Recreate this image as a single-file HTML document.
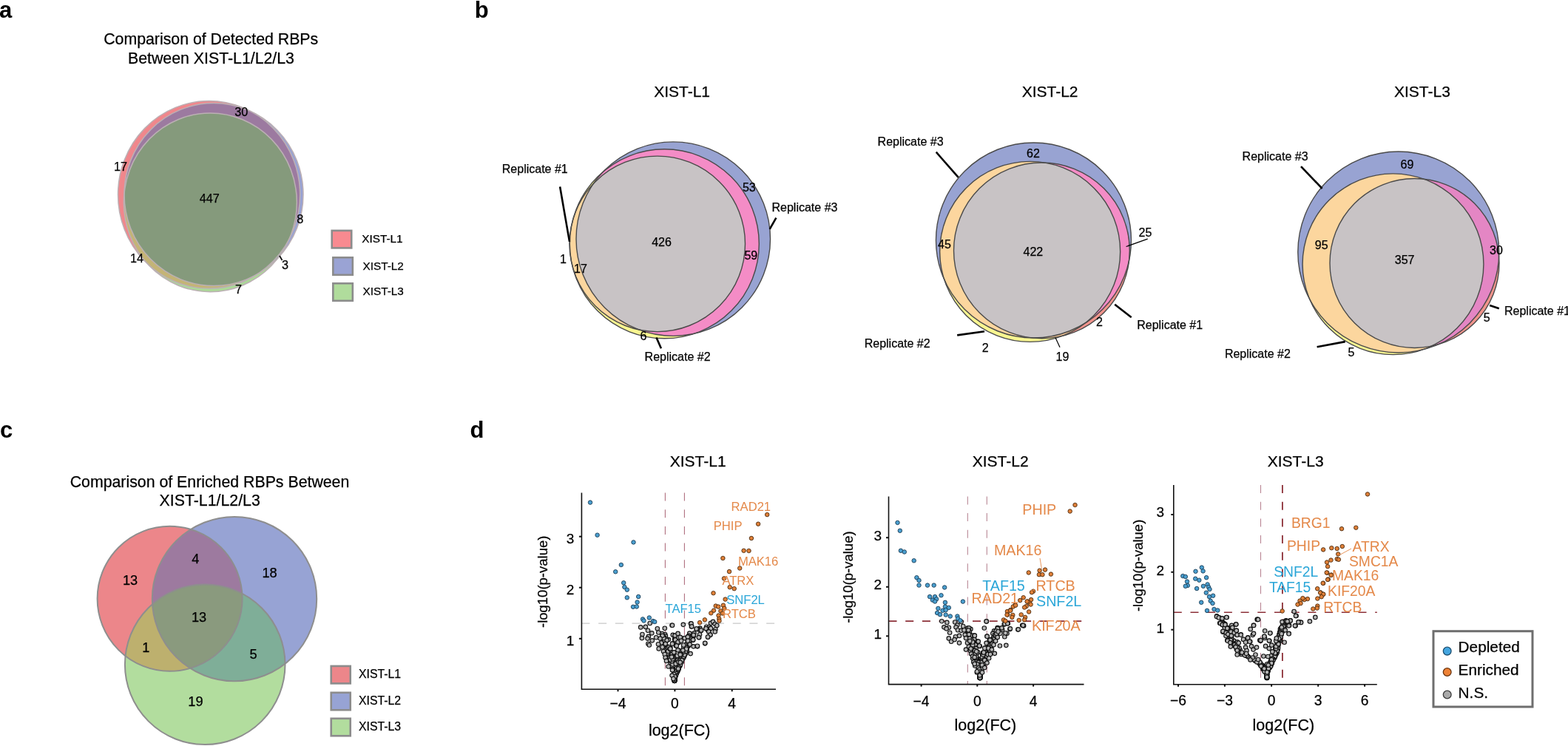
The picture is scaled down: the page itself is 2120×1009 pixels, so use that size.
<!DOCTYPE html>
<html><head><meta charset="utf-8"><title>Figure</title>
<style>html,body{margin:0;padding:0;background:#fff;} svg{display:block;} text{font-family:"Liberation Sans", Arial, sans-serif;} .t{stroke:#000;stroke-width:0.25px;}</style>
</head><body>
<svg width="2120" height="1009" viewBox="0 0 2120 1009">
<defs><clipPath id="cp1"><ellipse cx="282.6" cy="263.3" rx="123.1" ry="126.8"/></clipPath><clipPath id="cp2"><ellipse cx="289" cy="263" rx="121" ry="123.5"/></clipPath><clipPath id="cp3"><ellipse cx="284.35" cy="273.85" rx="117" ry="120.85"/></clipPath><clipPath id="cp4"><ellipse cx="898.3" cy="329.8" rx="128" ry="128"/></clipPath><clipPath id="cp5"><ellipse cx="888.75" cy="329.85" rx="118.75" ry="118.75"/></clipPath><clipPath id="cp6"><ellipse cx="910.25" cy="323.15" rx="131.25" ry="131.25"/></clipPath><clipPath id="cp7"><ellipse cx="1408.4" cy="338.9" rx="118.9" ry="118.9"/></clipPath><clipPath id="cp8"><ellipse cx="1392.65" cy="340.4" rx="122" ry="122"/></clipPath><clipPath id="cp9"><ellipse cx="1397.45" cy="325" rx="132" ry="132"/></clipPath><clipPath id="cp10"><ellipse cx="1912.5" cy="356" rx="114.5" ry="114.5"/></clipPath><clipPath id="cp11"><ellipse cx="1883.5" cy="357.25" rx="122.4" ry="122.4"/></clipPath><clipPath id="cp12"><ellipse cx="1890.8" cy="341" rx="136" ry="136"/></clipPath><clipPath id="cp13"><ellipse cx="229.6" cy="809.8" rx="98" ry="98"/></clipPath><clipPath id="cp14"><ellipse cx="317" cy="810.1" rx="111.2" ry="111.2"/></clipPath><clipPath id="cp15"><ellipse cx="277.2" cy="898.8" rx="108.3" ry="108.3"/></clipPath></defs>
<rect width="2120" height="1009" fill="#fff"/>
<text x="-1.0" y="23.6" font-size="31" text-anchor="start" fill="#000" font-weight="bold" >a</text>
<text x="641.8" y="23.6" font-size="31" text-anchor="start" fill="#000" font-weight="bold" >b</text>
<text x="0.0" y="592.3" font-size="31" text-anchor="start" fill="#000" font-weight="bold" >c</text>
<text x="635.4" y="592.3" font-size="31" text-anchor="start" fill="#000" font-weight="bold" >d</text>
<text x="285.2" y="60.2" font-size="21.3" text-anchor="middle" fill="#000" font-weight="normal" class="t" >Comparison of Detected RBPs</text>
<text x="285.5" y="85.8" font-size="21.3" text-anchor="middle" fill="#000" font-weight="normal" class="t" >Between XIST-L1/L2/L3</text>
<ellipse cx="282.6" cy="263.3" rx="123.1" ry="126.8" fill="#f0878c" stroke="none" stroke-width="0" />
<ellipse cx="289" cy="263" rx="121" ry="123.5" fill="#98a2d4" stroke="none" stroke-width="0" />
<ellipse cx="284.35" cy="273.85" rx="117" ry="120.85" fill="#acd898" stroke="none" stroke-width="0" />
<g clip-path="url(#cp2)"><ellipse cx="282.6" cy="263.3" rx="123.1" ry="126.8" fill="#9c7aa0" stroke="none" stroke-width="0" /></g>
<g clip-path="url(#cp3)"><ellipse cx="282.6" cy="263.3" rx="123.1" ry="126.8" fill="#c4b476" stroke="none" stroke-width="0" /></g>
<g clip-path="url(#cp3)"><ellipse cx="289" cy="263" rx="121" ry="123.5" fill="#84a8a0" stroke="none" stroke-width="0" /></g>
<g clip-path="url(#cp3)"><g clip-path="url(#cp2)"><ellipse cx="282.6" cy="263.3" rx="123.1" ry="126.8" fill="#859a7c" stroke="none" stroke-width="0" /></g></g>
<ellipse cx="282.6" cy="263.3" rx="123.1" ry="126.8" fill="none" stroke="#bcb0b4" stroke-width="1.5" />
<ellipse cx="289" cy="263" rx="121" ry="123.5" fill="none" stroke="#bcb0b4" stroke-width="1.5" />
<ellipse cx="284.35" cy="273.85" rx="117" ry="120.85" fill="none" stroke="#bcb0b4" stroke-width="1.5" />
<text x="326.3" y="157.2" font-size="16.2" text-anchor="middle" fill="#000" font-weight="normal" class="t" >30</text>
<text x="163.0" y="230.6" font-size="16.2" text-anchor="middle" fill="#000" font-weight="normal" class="t" >17</text>
<text x="283.2" y="273.8" font-size="16.2" text-anchor="middle" fill="#000" font-weight="normal" class="t" >447</text>
<text x="405.7" y="302.0" font-size="16.2" text-anchor="middle" fill="#000" font-weight="normal" class="t" >8</text>
<text x="185.0" y="355.0" font-size="16.2" text-anchor="middle" fill="#000" font-weight="normal" class="t" >14</text>
<text x="385.6" y="364.4" font-size="16.2" text-anchor="middle" fill="#000" font-weight="normal" class="t" >3</text>
<text x="322.5" y="396.5" font-size="16.2" text-anchor="middle" fill="#000" font-weight="normal" class="t" >7</text>
<line x1="378" y1="346" x2="381.5" y2="352" stroke="#111" stroke-width="1.8"/>
<rect x="448.7" y="311.90000000000003" width="26.5" height="23.5" fill="#f88a90" stroke="#8c8c8c" stroke-width="2.6"/>
<rect x="450.3" y="348.3" width="26.5" height="23.5" fill="#9aa3d4" stroke="#8c8c8c" stroke-width="2.6"/>
<rect x="450.3" y="383.3" width="26.5" height="23.5" fill="#b0dc9c" stroke="#8c8c8c" stroke-width="2.6"/>
<text x="489.3" y="328.3" font-size="15.3" text-anchor="start" fill="#000" font-weight="normal" class="t" >XIST-L1</text>
<text x="490.6" y="364.5" font-size="15.3" text-anchor="start" fill="#000" font-weight="normal" class="t" >XIST-L2</text>
<text x="490.6" y="398.9" font-size="15.3" text-anchor="start" fill="#000" font-weight="normal" class="t" >XIST-L3</text>
<text x="922.1" y="131.2" font-size="21" text-anchor="middle" fill="#000" font-weight="normal" class="t" >XIST-L1</text>
<text x="1419.6" y="131.2" font-size="21" text-anchor="middle" fill="#000" font-weight="normal" class="t" >XIST-L2</text>
<text x="1922.9" y="131.2" font-size="21" text-anchor="middle" fill="#000" font-weight="normal" class="t" >XIST-L3</text>
<ellipse cx="898.3" cy="329.8" rx="128" ry="128" fill="#f8f590" stroke="none" stroke-width="0" />
<ellipse cx="888.75" cy="329.85" rx="118.75" ry="118.75" fill="#f8f590" stroke="none" stroke-width="0" />
<ellipse cx="910.25" cy="323.15" rx="131.25" ry="131.25" fill="#98a3d2" stroke="none" stroke-width="0" />
<g clip-path="url(#cp5)"><ellipse cx="898.3" cy="329.8" rx="128" ry="128" fill="#fcd69e" stroke="none" stroke-width="0" /></g>
<g clip-path="url(#cp6)"><ellipse cx="898.3" cy="329.8" rx="128" ry="128" fill="#f48cc6" stroke="none" stroke-width="0" /></g>
<g clip-path="url(#cp6)"><ellipse cx="888.75" cy="329.85" rx="118.75" ry="118.75" fill="#fcd69e" stroke="none" stroke-width="0" /></g>
<g clip-path="url(#cp6)"><g clip-path="url(#cp5)"><ellipse cx="898.3" cy="329.8" rx="128" ry="128" fill="#c8c3c5" stroke="none" stroke-width="0" /></g></g>
<ellipse cx="898.3" cy="329.8" rx="128" ry="128" fill="none" stroke="#4a4a4a" stroke-width="1.4" />
<ellipse cx="888.75" cy="329.85" rx="118.75" ry="118.75" fill="none" stroke="#4a4a4a" stroke-width="1.4" />
<ellipse cx="910.25" cy="323.15" rx="131.25" ry="131.25" fill="none" stroke="#4a4a4a" stroke-width="1.4" />
<ellipse cx="1408.4" cy="338.9" rx="118.9" ry="118.9" fill="#f1948c" stroke="none" stroke-width="0" />
<ellipse cx="1392.65" cy="340.4" rx="122" ry="122" fill="#f8f590" stroke="none" stroke-width="0" />
<ellipse cx="1397.45" cy="325" rx="132" ry="132" fill="#98a3d2" stroke="none" stroke-width="0" />
<g clip-path="url(#cp8)"><ellipse cx="1408.4" cy="338.9" rx="118.9" ry="118.9" fill="#fbc996" stroke="none" stroke-width="0" /></g>
<g clip-path="url(#cp9)"><ellipse cx="1408.4" cy="338.9" rx="118.9" ry="118.9" fill="#f48cc6" stroke="none" stroke-width="0" /></g>
<g clip-path="url(#cp9)"><ellipse cx="1392.65" cy="340.4" rx="122" ry="122" fill="#fcd69e" stroke="none" stroke-width="0" /></g>
<g clip-path="url(#cp9)"><g clip-path="url(#cp8)"><ellipse cx="1408.4" cy="338.9" rx="118.9" ry="118.9" fill="#c8c3c5" stroke="none" stroke-width="0" /></g></g>
<ellipse cx="1408.4" cy="338.9" rx="118.9" ry="118.9" fill="none" stroke="#4a4a4a" stroke-width="1.4" />
<ellipse cx="1392.65" cy="340.4" rx="122" ry="122" fill="none" stroke="#4a4a4a" stroke-width="1.4" />
<ellipse cx="1397.45" cy="325" rx="132" ry="132" fill="none" stroke="#4a4a4a" stroke-width="1.4" />
<ellipse cx="1912.5" cy="356" rx="114.5" ry="114.5" fill="#f1948c" stroke="none" stroke-width="0" />
<ellipse cx="1883.5" cy="357.25" rx="122.4" ry="122.4" fill="#f8f590" stroke="none" stroke-width="0" />
<ellipse cx="1890.8" cy="341" rx="136" ry="136" fill="#98a3d2" stroke="none" stroke-width="0" />
<g clip-path="url(#cp11)"><ellipse cx="1912.5" cy="356" rx="114.5" ry="114.5" fill="#fbc996" stroke="none" stroke-width="0" /></g>
<g clip-path="url(#cp12)"><ellipse cx="1912.5" cy="356" rx="114.5" ry="114.5" fill="#e486c4" stroke="none" stroke-width="0" /></g>
<g clip-path="url(#cp12)"><ellipse cx="1883.5" cy="357.25" rx="122.4" ry="122.4" fill="#fcd69e" stroke="none" stroke-width="0" /></g>
<g clip-path="url(#cp12)"><g clip-path="url(#cp11)"><ellipse cx="1912.5" cy="356" rx="114.5" ry="114.5" fill="#c8c3c5" stroke="none" stroke-width="0" /></g></g>
<ellipse cx="1912.5" cy="356" rx="114.5" ry="114.5" fill="none" stroke="#4a4a4a" stroke-width="1.4" />
<ellipse cx="1883.5" cy="357.25" rx="122.4" ry="122.4" fill="none" stroke="#4a4a4a" stroke-width="1.4" />
<ellipse cx="1890.8" cy="341" rx="136" ry="136" fill="none" stroke="#4a4a4a" stroke-width="1.4" />
<text x="678.8" y="233.7" font-size="16" text-anchor="start" fill="#000" font-weight="normal" class="t" >Replicate #1</text>
<line x1="757.1" y1="252.5" x2="770" y2="326.9" stroke="#000" stroke-width="2.6"/>
<text x="1043.5" y="286.0" font-size="16" text-anchor="start" fill="#000" font-weight="normal" class="t" >Replicate #3</text>
<line x1="1049.4" y1="294.6" x2="1040.7" y2="309.8" stroke="#000" stroke-width="2.6"/>
<text x="871.6" y="487.6" font-size="16" text-anchor="start" fill="#000" font-weight="normal" class="t" >Replicate #2</text>
<line x1="887.4" y1="456.5" x2="893.9" y2="471.2" stroke="#000" stroke-width="2.6"/>
<text x="894.5" y="333.1" font-size="16" text-anchor="middle" fill="#000" font-weight="normal" class="t" >426</text>
<text x="1012.8" y="259.3" font-size="16" text-anchor="middle" fill="#000" font-weight="normal" class="t" >53</text>
<text x="1015.3" y="350.5" font-size="16" text-anchor="middle" fill="#000" font-weight="normal" class="t" >59</text>
<text x="761.5" y="355.6" font-size="16" text-anchor="middle" fill="#000" font-weight="normal" class="t" >1</text>
<text x="785.0" y="368.5" font-size="16" text-anchor="middle" fill="#000" font-weight="normal" class="t" >17</text>
<text x="870.0" y="459.5" font-size="16" text-anchor="middle" fill="#000" font-weight="normal" class="t" >6</text>
<text x="1186.6" y="197.4" font-size="16" text-anchor="start" fill="#000" font-weight="normal" class="t" >Replicate #3</text>
<line x1="1265.7" y1="205.7" x2="1295.7" y2="239.9" stroke="#000" stroke-width="2.6"/>
<text x="1537.2" y="444.7" font-size="16" text-anchor="start" fill="#000" font-weight="normal" class="t" >Replicate #1</text>
<line x1="1507.2" y1="411.8" x2="1529.7" y2="429.3" stroke="#000" stroke-width="2.6"/>
<text x="1168.7" y="469.7" font-size="16" text-anchor="start" fill="#000" font-weight="normal" class="t" >Replicate #2</text>
<line x1="1294.2" y1="453.4" x2="1331" y2="448.2" stroke="#000" stroke-width="2.6"/>
<line x1="1522.6" y1="333.5" x2="1551.7" y2="323.1" stroke="#000" stroke-width="1.2"/>
<line x1="1426.9" y1="456.4" x2="1433" y2="469.7" stroke="#000" stroke-width="1.2"/>
<text x="1396.9" y="212.8" font-size="16" text-anchor="middle" fill="#000" font-weight="normal" class="t" >62</text>
<text x="1277.0" y="335.6" font-size="16" text-anchor="middle" fill="#000" font-weight="normal" class="t" >45</text>
<text x="1396.9" y="346.0" font-size="16" text-anchor="middle" fill="#000" font-weight="normal" class="t" >422</text>
<text x="1548.4" y="320.2" font-size="16" text-anchor="middle" fill="#000" font-weight="normal" class="t" >25</text>
<text x="1486.4" y="441.0" font-size="16" text-anchor="middle" fill="#000" font-weight="normal" class="t" >2</text>
<text x="1332.2" y="476.4" font-size="16" text-anchor="middle" fill="#000" font-weight="normal" class="t" >2</text>
<text x="1436.4" y="487.6" font-size="16" text-anchor="middle" fill="#000" font-weight="normal" class="t" >19</text>
<text x="1679.6" y="216.5" font-size="16" text-anchor="start" fill="#000" font-weight="normal" class="t" >Replicate #3</text>
<line x1="1759" y1="225.2" x2="1787.6" y2="255" stroke="#000" stroke-width="2.6"/>
<text x="2034.0" y="425.7" font-size="16" text-anchor="start" fill="#000" font-weight="normal" class="t" >Replicate #1</text>
<line x1="2014.1" y1="413" x2="2026.8" y2="417.2" stroke="#000" stroke-width="2.6"/>
<text x="1655.9" y="484.4" font-size="16" text-anchor="start" fill="#000" font-weight="normal" class="t" >Replicate #2</text>
<line x1="1780.6" y1="469.2" x2="1818.7" y2="462.1" stroke="#000" stroke-width="2.6"/>
<text x="1902.5" y="228.0" font-size="16" text-anchor="middle" fill="#000" font-weight="normal" class="t" >69</text>
<text x="1786.7" y="336.7" font-size="16" text-anchor="middle" fill="#000" font-weight="normal" class="t" >95</text>
<text x="1899.1" y="357.4" font-size="16" text-anchor="middle" fill="#000" font-weight="normal" class="t" >357</text>
<text x="2022.9" y="343.8" font-size="16" text-anchor="middle" fill="#000" font-weight="normal" class="t" >30</text>
<text x="2010.3" y="435.2" font-size="16" text-anchor="middle" fill="#000" font-weight="normal" class="t" >5</text>
<text x="1827.0" y="482.0" font-size="16" text-anchor="middle" fill="#000" font-weight="normal" class="t" >5</text>
<text x="283.5" y="658.8" font-size="21.3" text-anchor="middle" fill="#000" font-weight="normal" class="t" >Comparison of Enriched RBPs Between</text>
<text x="283.7" y="683.7" font-size="21.3" text-anchor="middle" fill="#000" font-weight="normal" class="t" >XIST-L1/L2/L3</text>
<ellipse cx="229.6" cy="809.8" rx="98" ry="98" fill="#ec868a" stroke="none" stroke-width="0" />
<ellipse cx="317" cy="810.1" rx="111.2" ry="111.2" fill="#97a3d4" stroke="none" stroke-width="0" />
<ellipse cx="277.2" cy="898.8" rx="108.3" ry="108.3" fill="#b2dd9e" stroke="none" stroke-width="0" />
<g clip-path="url(#cp14)"><ellipse cx="229.6" cy="809.8" rx="98" ry="98" fill="#9d7a9f" stroke="none" stroke-width="0" /></g>
<g clip-path="url(#cp15)"><ellipse cx="229.6" cy="809.8" rx="98" ry="98" fill="#bdb06e" stroke="none" stroke-width="0" /></g>
<g clip-path="url(#cp15)"><ellipse cx="317" cy="810.1" rx="111.2" ry="111.2" fill="#7fae98" stroke="none" stroke-width="0" /></g>
<g clip-path="url(#cp15)"><g clip-path="url(#cp14)"><ellipse cx="229.6" cy="809.8" rx="98" ry="98" fill="#8a9a7e" stroke="none" stroke-width="0" /></g></g>
<ellipse cx="229.6" cy="809.8" rx="98" ry="98" fill="none" stroke="#8e8e8e" stroke-width="2" />
<ellipse cx="317" cy="810.1" rx="111.2" ry="111.2" fill="none" stroke="#8e8e8e" stroke-width="2" />
<ellipse cx="277.2" cy="898.8" rx="108.3" ry="108.3" fill="none" stroke="#8e8e8e" stroke-width="2" />
<text x="176.1" y="790.5" font-size="18.2" text-anchor="middle" fill="#000" font-weight="normal" class="t" >13</text>
<text x="264.3" y="761.7" font-size="18.2" text-anchor="middle" fill="#000" font-weight="normal" class="t" >4</text>
<text x="364.6" y="781.2" font-size="18.2" text-anchor="middle" fill="#000" font-weight="normal" class="t" >18</text>
<text x="269.1" y="841.0" font-size="18.2" text-anchor="middle" fill="#000" font-weight="normal" class="t" >13</text>
<text x="197.3" y="882.4" font-size="18.2" text-anchor="middle" fill="#000" font-weight="normal" class="t" >1</text>
<text x="342.5" y="890.9" font-size="18.2" text-anchor="middle" fill="#000" font-weight="normal" class="t" >5</text>
<text x="264.4" y="955.1" font-size="18.2" text-anchor="middle" fill="#000" font-weight="normal" class="t" >19</text>
<rect x="447.7" y="900.9" width="26" height="23.5" fill="#ec868a" stroke="#8c8c8c" stroke-width="2.6"/>
<rect x="447.7" y="936.8" width="26" height="23.5" fill="#97a3d4" stroke="#8c8c8c" stroke-width="2.6"/>
<rect x="447.7" y="971.8" width="26" height="23.5" fill="#b2dd9e" stroke="#8c8c8c" stroke-width="2.6"/>
<text x="485.0" y="917.4" font-size="15.8" text-anchor="start" fill="#000" font-weight="normal" class="t" >XIST-L1</text>
<text x="485.0" y="953.3" font-size="15.8" text-anchor="start" fill="#000" font-weight="normal" class="t" >XIST-L2</text>
<text x="485.0" y="988.3" font-size="15.8" text-anchor="start" fill="#000" font-weight="normal" class="t" >XIST-L3</text>
<line x1="899.4" y1="666.5" x2="899.4" y2="932.3" stroke="#b0707f" stroke-width="1.1" stroke-dasharray="11,11.7"/>
<line x1="925.4" y1="666.5" x2="925.4" y2="932.3" stroke="#b0707f" stroke-width="1.1" stroke-dasharray="11,11.7"/>
<line x1="786.4" y1="843.2" x2="1049" y2="843.2" stroke="#c8c8c8" stroke-width="1.2" stroke-dasharray="11,11.7"/>
<polygon points="912,919 902,893 906,888 917,889 926,884 922,900" fill="#2e2e2e"/>
<g fill="#b5b5b5" stroke="#121212" stroke-width="1.15"><circle cx="946.4" cy="849.6" r="2.75"/><circle cx="945.1" cy="851.3" r="2.75"/><circle cx="955.2" cy="847.7" r="2.75"/><circle cx="943.6" cy="851.2" r="2.75"/><circle cx="959.2" cy="847.7" r="2.75"/><circle cx="957.0" cy="852.2" r="2.75"/><circle cx="899.0" cy="861.1" r="2.75"/><circle cx="894.8" cy="857.3" r="2.75"/><circle cx="913.6" cy="913.9" r="2.75"/><circle cx="919.3" cy="900.7" r="2.75"/><circle cx="912.0" cy="913.1" r="2.75"/><circle cx="913.4" cy="910.1" r="2.75"/><circle cx="931.6" cy="867.3" r="2.75"/><circle cx="898.4" cy="865.2" r="2.75"/><circle cx="914.8" cy="907.6" r="2.75"/><circle cx="912.8" cy="901.8" r="2.75"/><circle cx="906.9" cy="882.6" r="2.75"/><circle cx="929.9" cy="866.5" r="2.75"/><circle cx="904.0" cy="889.4" r="2.75"/><circle cx="912.8" cy="902.3" r="2.75"/><circle cx="922.1" cy="892.5" r="2.75"/><circle cx="917.3" cy="900.6" r="2.75"/><circle cx="928.5" cy="872.9" r="2.75"/><circle cx="912.0" cy="920.6" r="2.75"/><circle cx="918.1" cy="879.7" r="2.75"/><circle cx="916.2" cy="903.7" r="2.75"/><circle cx="930.7" cy="873.7" r="2.75"/><circle cx="903.9" cy="865.1" r="2.75"/><circle cx="923.8" cy="890.3" r="2.75"/><circle cx="914.4" cy="911.2" r="2.75"/><circle cx="931.1" cy="872.4" r="2.75"/><circle cx="932.8" cy="862.6" r="2.75"/><circle cx="907.5" cy="891.6" r="2.75"/><circle cx="912.1" cy="920.1" r="2.75"/><circle cx="912.4" cy="914.7" r="2.75"/><circle cx="916.5" cy="906.7" r="2.75"/><circle cx="925.4" cy="886.5" r="2.75"/><circle cx="911.6" cy="913.3" r="2.75"/><circle cx="921.6" cy="889.7" r="2.75"/><circle cx="931.4" cy="871.2" r="2.75"/><circle cx="907.2" cy="882.3" r="2.75"/><circle cx="912.0" cy="920.8" r="2.75"/><circle cx="912.2" cy="918.5" r="2.75"/><circle cx="911.1" cy="906.9" r="2.75"/><circle cx="912.3" cy="916.2" r="2.75"/><circle cx="927.9" cy="879.0" r="2.75"/><circle cx="912.0" cy="920.7" r="2.75"/><circle cx="912.3" cy="901.9" r="2.75"/><circle cx="909.3" cy="895.5" r="2.75"/><circle cx="924.9" cy="888.0" r="2.75"/><circle cx="912.3" cy="917.1" r="2.75"/><circle cx="912.3" cy="916.5" r="2.75"/><circle cx="912.5" cy="913.7" r="2.75"/><circle cx="908.5" cy="895.0" r="2.75"/><circle cx="904.6" cy="884.4" r="2.75"/><circle cx="904.0" cy="885.9" r="2.75"/><circle cx="912.8" cy="909.6" r="2.75"/><circle cx="913.2" cy="909.1" r="2.75"/><circle cx="906.3" cy="876.1" r="2.75"/><circle cx="911.6" cy="912.1" r="2.75"/><circle cx="917.9" cy="869.1" r="2.75"/><circle cx="912.4" cy="916.0" r="2.75"/><circle cx="928.6" cy="879.6" r="2.75"/><circle cx="909.7" cy="904.7" r="2.75"/><circle cx="911.4" cy="901.1" r="2.75"/><circle cx="912.2" cy="918.6" r="2.75"/><circle cx="912.9" cy="908.0" r="2.75"/><circle cx="912.0" cy="920.8" r="2.75"/><circle cx="915.9" cy="907.9" r="2.75"/><circle cx="911.8" cy="907.2" r="2.75"/><circle cx="899.2" cy="858.0" r="2.75"/><circle cx="925.9" cy="863.0" r="2.75"/><circle cx="913.0" cy="913.0" r="2.75"/><circle cx="912.1" cy="919.3" r="2.75"/><circle cx="929.5" cy="874.7" r="2.75"/><circle cx="898.9" cy="867.0" r="2.75"/><circle cx="931.6" cy="864.4" r="2.75"/><circle cx="897.3" cy="862.5" r="2.75"/><circle cx="912.0" cy="920.5" r="2.75"/><circle cx="932.3" cy="864.6" r="2.75"/><circle cx="923.5" cy="887.2" r="2.75"/><circle cx="917.6" cy="904.7" r="2.75"/><circle cx="913.2" cy="911.4" r="2.75"/><circle cx="934.1" cy="858.7" r="2.75"/><circle cx="914.7" cy="910.8" r="2.75"/><circle cx="902.3" cy="882.6" r="2.75"/><circle cx="912.2" cy="918.3" r="2.75"/><circle cx="912.1" cy="912.8" r="2.75"/><circle cx="912.2" cy="918.3" r="2.75"/><circle cx="912.2" cy="918.7" r="2.75"/><circle cx="899.9" cy="860.3" r="2.75"/><circle cx="911.0" cy="912.1" r="2.75"/><circle cx="912.0" cy="920.4" r="2.75"/><circle cx="913.0" cy="909.8" r="2.75"/><circle cx="912.1" cy="919.9" r="2.75"/><circle cx="912.2" cy="918.4" r="2.75"/><circle cx="915.6" cy="887.0" r="2.75"/><circle cx="928.3" cy="881.0" r="2.75"/><circle cx="913.5" cy="909.1" r="2.75"/><circle cx="912.1" cy="919.4" r="2.75"/><circle cx="926.8" cy="884.1" r="2.75"/><circle cx="895.1" cy="857.1" r="2.75"/><circle cx="913.6" cy="908.5" r="2.75"/><circle cx="897.6" cy="861.9" r="2.75"/><circle cx="921.4" cy="890.2" r="2.75"/><circle cx="911.2" cy="912.5" r="2.75"/><circle cx="905.6" cy="892.4" r="2.75"/><circle cx="912.1" cy="919.6" r="2.75"/><circle cx="906.9" cy="896.7" r="2.75"/><circle cx="916.9" cy="896.1" r="2.75"/><circle cx="912.1" cy="919.5" r="2.75"/><circle cx="926.6" cy="873.1" r="2.75"/><circle cx="916.0" cy="908.3" r="2.75"/><circle cx="912.8" cy="909.9" r="2.75"/><circle cx="895.8" cy="860.2" r="2.75"/><circle cx="915.9" cy="908.6" r="2.75"/><circle cx="934.6" cy="860.5" r="2.75"/><circle cx="912.4" cy="915.7" r="2.75"/><circle cx="912.3" cy="916.6" r="2.75"/><circle cx="912.1" cy="919.9" r="2.75"/><circle cx="921.5" cy="892.5" r="2.75"/><circle cx="931.1" cy="866.0" r="2.75"/><circle cx="912.5" cy="911.8" r="2.75"/><circle cx="903.4" cy="884.6" r="2.75"/><circle cx="909.5" cy="906.2" r="2.75"/><circle cx="912.2" cy="917.9" r="2.75"/><circle cx="916.0" cy="903.2" r="2.75"/><circle cx="912.6" cy="913.1" r="2.75"/><circle cx="926.4" cy="884.4" r="2.75"/><circle cx="928.2" cy="881.2" r="2.75"/><circle cx="909.5" cy="897.8" r="2.75"/><circle cx="913.6" cy="902.5" r="2.75"/><circle cx="911.4" cy="910.9" r="2.75"/><circle cx="912.1" cy="920.3" r="2.75"/><circle cx="912.3" cy="916.5" r="2.75"/><circle cx="898.1" cy="862.9" r="2.75"/><circle cx="912.5" cy="905.1" r="2.75"/><circle cx="926.3" cy="876.8" r="2.75"/><circle cx="908.8" cy="890.8" r="2.75"/><circle cx="912.6" cy="912.2" r="2.75"/><circle cx="912.1" cy="920.2" r="2.75"/><circle cx="902.5" cy="878.5" r="2.75"/><circle cx="900.7" cy="877.3" r="2.75"/><circle cx="931.2" cy="870.2" r="2.75"/><circle cx="912.3" cy="917.4" r="2.75"/><circle cx="931.9" cy="866.9" r="2.75"/><circle cx="909.8" cy="858.8" r="2.75"/><circle cx="928.8" cy="870.7" r="2.75"/><circle cx="912.3" cy="916.3" r="2.75"/><circle cx="912.2" cy="918.1" r="2.75"/><circle cx="908.5" cy="902.7" r="2.75"/><circle cx="902.1" cy="875.6" r="2.75"/><circle cx="912.4" cy="915.2" r="2.75"/><circle cx="924.9" cy="888.0" r="2.75"/><circle cx="912.5" cy="914.4" r="2.75"/><circle cx="904.4" cy="889.6" r="2.75"/><circle cx="925.6" cy="881.4" r="2.75"/><circle cx="916.2" cy="892.8" r="2.75"/><circle cx="930.7" cy="865.6" r="2.75"/><circle cx="911.6" cy="910.4" r="2.75"/><circle cx="898.7" cy="870.2" r="2.75"/><circle cx="902.5" cy="874.5" r="2.75"/><circle cx="918.2" cy="896.2" r="2.75"/><circle cx="913.7" cy="908.8" r="2.75"/><circle cx="912.0" cy="921.0" r="2.75"/><circle cx="910.9" cy="899.9" r="2.75"/><circle cx="925.5" cy="881.5" r="2.75"/><circle cx="902.5" cy="884.5" r="2.75"/><circle cx="914.6" cy="910.8" r="2.75"/><circle cx="925.7" cy="863.1" r="2.75"/><circle cx="919.9" cy="899.0" r="2.75"/><circle cx="916.3" cy="902.7" r="2.75"/><circle cx="912.2" cy="916.1" r="2.75"/><circle cx="907.8" cy="893.9" r="2.75"/><circle cx="907.6" cy="901.5" r="2.75"/><circle cx="932.8" cy="865.1" r="2.75"/><circle cx="924.3" cy="875.6" r="2.75"/><circle cx="927.8" cy="875.9" r="2.75"/><circle cx="915.5" cy="902.8" r="2.75"/><circle cx="922.4" cy="885.7" r="2.75"/><circle cx="931.4" cy="866.5" r="2.75"/><circle cx="912.7" cy="906.5" r="2.75"/><circle cx="916.5" cy="879.3" r="2.75"/><circle cx="912.3" cy="916.8" r="2.75"/><circle cx="912.0" cy="920.3" r="2.75"/><circle cx="902.7" cy="876.0" r="2.75"/><circle cx="912.0" cy="920.8" r="2.75"/><circle cx="932.3" cy="856.6" r="2.75"/><circle cx="905.9" cy="888.1" r="2.75"/><circle cx="912.5" cy="914.4" r="2.75"/><circle cx="912.1" cy="919.6" r="2.75"/><circle cx="921.7" cy="895.4" r="2.75"/><circle cx="912.3" cy="916.2" r="2.75"/><circle cx="912.7" cy="911.2" r="2.75"/><circle cx="911.4" cy="913.2" r="2.75"/><circle cx="901.1" cy="864.5" r="2.75"/><circle cx="913.8" cy="913.7" r="2.75"/><circle cx="900.7" cy="866.7" r="2.75"/><circle cx="913.6" cy="908.5" r="2.75"/><circle cx="929.2" cy="874.5" r="2.75"/><circle cx="912.1" cy="916.3" r="2.75"/><circle cx="931.2" cy="859.9" r="2.75"/><circle cx="904.9" cy="888.0" r="2.75"/><circle cx="912.3" cy="917.4" r="2.75"/><circle cx="917.0" cy="905.8" r="2.75"/><circle cx="905.2" cy="878.4" r="2.75"/><circle cx="912.2" cy="918.6" r="2.75"/><circle cx="912.2" cy="915.4" r="2.75"/><circle cx="907.1" cy="888.7" r="2.75"/><circle cx="912.0" cy="920.5" r="2.75"/><circle cx="909.9" cy="887.4" r="2.75"/><circle cx="898.2" cy="867.3" r="2.75"/><circle cx="917.3" cy="903.3" r="2.75"/><circle cx="909.2" cy="904.7" r="2.75"/><circle cx="915.3" cy="899.0" r="2.75"/><circle cx="911.4" cy="914.2" r="2.75"/><circle cx="895.3" cy="860.3" r="2.75"/><circle cx="928.3" cy="871.2" r="2.75"/><circle cx="915.3" cy="908.4" r="2.75"/><circle cx="917.0" cy="903.3" r="2.75"/><circle cx="912.3" cy="916.8" r="2.75"/><circle cx="912.3" cy="917.1" r="2.75"/><circle cx="912.1" cy="920.0" r="2.75"/><circle cx="915.2" cy="867.1" r="2.75"/><circle cx="912.1" cy="919.9" r="2.75"/><circle cx="912.0" cy="920.4" r="2.75"/><circle cx="912.0" cy="920.7" r="2.75"/><circle cx="927.8" cy="876.0" r="2.75"/><circle cx="914.7" cy="904.0" r="2.75"/><circle cx="908.7" cy="885.0" r="2.75"/><circle cx="906.1" cy="889.2" r="2.75"/><circle cx="924.4" cy="888.0" r="2.75"/><circle cx="909.2" cy="906.3" r="2.75"/><circle cx="912.1" cy="914.8" r="2.75"/><circle cx="927.3" cy="883.3" r="2.75"/><circle cx="904.4" cy="875.3" r="2.75"/><circle cx="912.3" cy="916.9" r="2.75"/><circle cx="901.6" cy="865.9" r="2.75"/><circle cx="909.3" cy="898.5" r="2.75"/><circle cx="912.0" cy="920.4" r="2.75"/><circle cx="917.8" cy="903.6" r="2.75"/><circle cx="897.4" cy="863.0" r="2.75"/><circle cx="899.0" cy="870.9" r="2.75"/><circle cx="912.0" cy="920.6" r="2.75"/><circle cx="912.2" cy="917.7" r="2.75"/><circle cx="930.9" cy="870.3" r="2.75"/><circle cx="911.3" cy="912.5" r="2.75"/><circle cx="911.0" cy="907.7" r="2.75"/><circle cx="910.7" cy="889.7" r="2.75"/><circle cx="922.7" cy="884.1" r="2.75"/><circle cx="932.3" cy="867.6" r="2.75"/><circle cx="921.2" cy="893.6" r="2.75"/><circle cx="912.7" cy="910.0" r="2.75"/><circle cx="912.2" cy="918.9" r="2.75"/><circle cx="905.7" cy="890.5" r="2.75"/><circle cx="913.6" cy="908.7" r="2.75"/><circle cx="909.1" cy="906.3" r="2.75"/><circle cx="908.4" cy="894.3" r="2.75"/><circle cx="895.6" cy="859.8" r="2.75"/><circle cx="913.6" cy="897.7" r="2.75"/><circle cx="931.2" cy="869.4" r="2.75"/><circle cx="899.7" cy="870.8" r="2.75"/><circle cx="917.6" cy="894.5" r="2.75"/><circle cx="928.8" cy="879.7" r="2.75"/><circle cx="914.9" cy="905.8" r="2.75"/><circle cx="915.1" cy="903.1" r="2.75"/><circle cx="912.3" cy="916.2" r="2.75"/><circle cx="927.0" cy="881.1" r="2.75"/><circle cx="917.8" cy="902.5" r="2.75"/><circle cx="912.1" cy="920.2" r="2.75"/><circle cx="912.2" cy="918.6" r="2.75"/><circle cx="925.4" cy="885.8" r="2.75"/><circle cx="932.5" cy="866.1" r="2.75"/><circle cx="912.4" cy="915.9" r="2.75"/><circle cx="916.9" cy="905.4" r="2.75"/><circle cx="932.0" cy="862.1" r="2.75"/><circle cx="912.1" cy="864.6" r="2.75"/><circle cx="923.3" cy="882.1" r="2.75"/><circle cx="928.0" cy="877.7" r="2.75"/><circle cx="911.1" cy="911.9" r="2.75"/><circle cx="917.4" cy="895.2" r="2.75"/><circle cx="917.6" cy="903.0" r="2.75"/><circle cx="905.7" cy="889.7" r="2.75"/><circle cx="912.4" cy="915.2" r="2.75"/><circle cx="903.2" cy="880.8" r="2.75"/><circle cx="932.5" cy="862.5" r="2.75"/><circle cx="919.9" cy="893.0" r="2.75"/><circle cx="922.0" cy="893.1" r="2.75"/><circle cx="917.9" cy="902.7" r="2.75"/><circle cx="919.7" cy="895.8" r="2.75"/><circle cx="906.3" cy="892.4" r="2.75"/><circle cx="921.2" cy="885.4" r="2.75"/><circle cx="909.6" cy="891.2" r="2.75"/><circle cx="930.5" cy="861.7" r="2.75"/><circle cx="929.9" cy="861.4" r="2.75"/><circle cx="917.1" cy="904.4" r="2.75"/><circle cx="866.2" cy="848.4" r="2.75"/><circle cx="872.9" cy="847.9" r="2.75"/><circle cx="876.0" cy="852.7" r="2.75"/><circle cx="878.7" cy="843.0" r="2.75"/><circle cx="868.4" cy="858.0" r="2.75"/><circle cx="867.9" cy="863.1" r="2.75"/><circle cx="876.9" cy="860.9" r="2.75"/><circle cx="881.3" cy="856.3" r="2.75"/><circle cx="875.5" cy="863.6" r="2.75"/><circle cx="881.8" cy="866.3" r="2.75"/><circle cx="876.4" cy="870.7" r="2.75"/><circle cx="877.8" cy="872.5" r="2.75"/><circle cx="887.1" cy="862.2" r="2.75"/><circle cx="888.8" cy="850.2" r="2.75"/><circle cx="890.3" cy="855.5" r="2.75"/><circle cx="892.5" cy="863.6" r="2.75"/><circle cx="894.1" cy="869.4" r="2.75"/><circle cx="890.0" cy="871.2" r="2.75"/><circle cx="890.7" cy="877.4" r="2.75"/><circle cx="895.6" cy="875.2" r="2.75"/><circle cx="897.0" cy="881.0" r="2.75"/><circle cx="898.8" cy="885.0" r="2.75"/><circle cx="899.6" cy="889.5" r="2.75"/><circle cx="901.0" cy="893.9" r="2.75"/><circle cx="903.7" cy="901.5" r="2.75"/><circle cx="908.6" cy="913.6" r="2.75"/><circle cx="910.4" cy="918.0" r="2.75"/><circle cx="898.8" cy="849.7" r="2.75"/><circle cx="908.6" cy="845.7" r="2.75"/><circle cx="905.9" cy="877.9" r="2.75"/><circle cx="911.2" cy="882.3" r="2.75"/><circle cx="909.0" cy="888.6" r="2.75"/><circle cx="912.6" cy="860.0" r="2.75"/><circle cx="909.5" cy="870.3" r="2.75"/><circle cx="913.0" cy="865.4" r="2.75"/><circle cx="913.9" cy="873.4" r="2.75"/><circle cx="909.0" cy="845.7" r="2.75"/><circle cx="923.8" cy="844.8" r="2.75"/><circle cx="934.0" cy="843.5" r="2.75"/><circle cx="934.9" cy="847.5" r="2.75"/><circle cx="912.6" cy="859.6" r="2.75"/><circle cx="916.6" cy="856.9" r="2.75"/><circle cx="919.7" cy="861.8" r="2.75"/><circle cx="913.0" cy="865.4" r="2.75"/><circle cx="916.6" cy="868.5" r="2.75"/><circle cx="921.0" cy="866.7" r="2.75"/><circle cx="909.0" cy="870.7" r="2.75"/><circle cx="914.8" cy="873.4" r="2.75"/><circle cx="924.2" cy="872.5" r="2.75"/><circle cx="930.0" cy="866.7" r="2.75"/><circle cx="937.1" cy="865.8" r="2.75"/><circle cx="941.6" cy="850.6" r="2.75"/><circle cx="947.9" cy="852.9" r="2.75"/><circle cx="938.5" cy="856.4" r="2.75"/><circle cx="938.0" cy="860.0" r="2.75"/><circle cx="945.2" cy="862.2" r="2.75"/><circle cx="946.0" cy="858.2" r="2.75"/><circle cx="954.6" cy="850.2" r="2.75"/><circle cx="960.4" cy="849.7" r="2.75"/><circle cx="958.6" cy="854.6" r="2.75"/><circle cx="960.4" cy="858.7" r="2.75"/><circle cx="957.2" cy="861.8" r="2.75"/><circle cx="953.2" cy="870.3" r="2.75"/><circle cx="932.7" cy="871.6" r="2.75"/><circle cx="937.6" cy="874.3" r="2.75"/><circle cx="942.9" cy="874.3" r="2.75"/><circle cx="933.6" cy="884.1" r="2.75"/><circle cx="923.3" cy="879.6" r="2.75"/><circle cx="919.7" cy="885.4" r="2.75"/><circle cx="906.3" cy="877.4" r="2.75"/><circle cx="911.2" cy="882.3" r="2.75"/><circle cx="908.1" cy="888.6" r="2.75"/><circle cx="934.5" cy="843.4" r="2.75"/><circle cx="935.2" cy="847.3" r="2.75"/><circle cx="961.0" cy="842.8" r="2.75"/><circle cx="964.1" cy="840.9" r="2.75"/><circle cx="966.7" cy="844.1" r="2.75"/><circle cx="969.3" cy="846.0" r="2.75"/><circle cx="954.5" cy="850.1" r="2.75"/><circle cx="961.0" cy="849.9" r="2.75"/><circle cx="967.4" cy="851.2" r="2.75"/><circle cx="966.7" cy="854.4" r="2.75"/><circle cx="948.0" cy="852.5" r="2.75"/><circle cx="941.6" cy="850.5" r="2.75"/><circle cx="958.3" cy="854.4" r="2.75"/><circle cx="960.3" cy="858.6" r="2.75"/><circle cx="957.0" cy="861.5" r="2.75"/><circle cx="944.8" cy="862.1" r="2.75"/><circle cx="937.7" cy="858.9" r="2.75"/><circle cx="953.2" cy="869.8" r="2.75"/><circle cx="942.9" cy="873.7" r="2.75"/><circle cx="937.1" cy="865.3" r="2.75"/></g>
<g fill="#4a9fd0" stroke="#1d3d55" stroke-width="0.9"><circle cx="798.0" cy="679.6" r="2.75"/><circle cx="807.6" cy="723.7" r="2.75"/><circle cx="856.5" cy="733.4" r="2.75"/><circle cx="839.8" cy="764.0" r="2.75"/><circle cx="832.2" cy="773.3" r="2.75"/><circle cx="843.2" cy="788.3" r="2.75"/><circle cx="844.4" cy="794.0" r="2.75"/><circle cx="847.8" cy="797.7" r="2.75"/><circle cx="847.8" cy="808.3" r="2.75"/><circle cx="863.2" cy="807.0" r="2.75"/><circle cx="861.6" cy="814.5" r="2.75"/><circle cx="856.0" cy="820.8" r="2.75"/><circle cx="860.8" cy="820.5" r="2.75"/><circle cx="869.0" cy="837.4" r="2.75"/><circle cx="877.8" cy="835.5" r="2.75"/><circle cx="883.0" cy="840.1" r="2.75"/><circle cx="870.5" cy="839.6" r="2.75"/><circle cx="885.2" cy="841.0" r="2.75"/></g>
<g fill="#e08038" stroke="#4a2a10" stroke-width="0.9"><circle cx="1037.2" cy="696.1" r="2.75"/><circle cx="1025.1" cy="708.7" r="2.75"/><circle cx="1015.9" cy="728.0" r="2.75"/><circle cx="1005.6" cy="744.8" r="2.75"/><circle cx="1012.5" cy="745.0" r="2.75"/><circle cx="977.4" cy="755.0" r="2.75"/><circle cx="1000.2" cy="768.5" r="2.75"/><circle cx="986.0" cy="773.1" r="2.75"/><circle cx="979.0" cy="782.4" r="2.75"/><circle cx="986.7" cy="794.2" r="2.75"/><circle cx="992.7" cy="796.2" r="2.75"/><circle cx="964.5" cy="802.2" r="2.75"/><circle cx="980.6" cy="810.6" r="2.75"/><circle cx="967.7" cy="819.6" r="2.75"/><circle cx="971.2" cy="820.6" r="2.75"/><circle cx="977.9" cy="818.7" r="2.75"/><circle cx="979.3" cy="822.8" r="2.75"/><circle cx="965.0" cy="825.7" r="2.75"/><circle cx="961.3" cy="829.3" r="2.75"/><circle cx="974.4" cy="826.4" r="2.75"/><circle cx="977.0" cy="829.5" r="2.75"/><circle cx="971.5" cy="832.5" r="2.75"/><circle cx="972.3" cy="837.0" r="2.75"/><circle cx="972.5" cy="839.8" r="2.75"/><circle cx="952.9" cy="838.3" r="2.75"/><circle cx="946.1" cy="842.1" r="2.75"/></g>
<path d="M786.4 666.5V932.3H1049" fill="none" stroke="#111" stroke-width="1.6"/>
<line x1="782.9" y1="725.7" x2="786.4" y2="725.7" stroke="#111" stroke-width="2"/>
<text x="776.3" y="734.8" font-size="19" text-anchor="end" fill="#000" font-weight="normal" class="t" >3</text>
<line x1="782.9" y1="794.7" x2="786.4" y2="794.7" stroke="#111" stroke-width="2"/>
<text x="776.3" y="804.0" font-size="19" text-anchor="end" fill="#000" font-weight="normal" class="t" >2</text>
<line x1="782.9" y1="863.8" x2="786.4" y2="863.8" stroke="#111" stroke-width="2"/>
<text x="776.3" y="872.9" font-size="19" text-anchor="end" fill="#000" font-weight="normal" class="t" >1</text>
<line x1="835.5" y1="932.3" x2="835.5" y2="935.3" stroke="#111" stroke-width="2"/>
<text x="835.5" y="958.2" font-size="19.3" text-anchor="middle" fill="#000" font-weight="normal" class="t" >−4</text>
<line x1="912.4" y1="932.3" x2="912.4" y2="935.3" stroke="#111" stroke-width="2"/>
<text x="912.4" y="958.2" font-size="19.3" text-anchor="middle" fill="#000" font-weight="normal" class="t" >0</text>
<line x1="989.7" y1="932.3" x2="989.7" y2="935.3" stroke="#111" stroke-width="2"/>
<text x="989.7" y="958.2" font-size="19.3" text-anchor="middle" fill="#000" font-weight="normal" class="t" >4</text>
<text x="918.7" y="994.8" font-size="21.5" text-anchor="middle" fill="#000" font-weight="normal" class="t" >log2(FC)</text>
<text x="0" y="0" font-size="18.5" text-anchor="middle" fill="#000" class="t" transform="translate(740.1,786.8) rotate(-90)">-log10(p-value)</text>
<text x="943.7" y="630.8" font-size="21" text-anchor="middle" fill="#000" font-weight="normal" class="t" >XIST-L1</text>
<text x="988.6" y="690.7" font-size="16.6" fill="#e4894a">RAD21</text>
<text x="964.8" y="716.7" font-size="16.6" fill="#e4894a">PHIP</text>
<text x="997.9" y="765" font-size="16.6" fill="#e4894a">MAK16</text>
<text x="976.4" y="790.9" font-size="16.6" fill="#e4894a">ATRX</text>
<text x="982.2" y="816.6" font-size="16.6" fill="#2aa6d8">SNF2L</text>
<text x="977" y="835.7" font-size="16.6" fill="#e4894a">RTCB</text>
<text x="899.5" y="829" font-size="16.6" fill="#2aa6d8">TAF15</text>
<line x1="1308.3" y1="671.4" x2="1308.3" y2="925.6" stroke="#b98694" stroke-width="1.1" stroke-dasharray="11,11.7"/>
<line x1="1334.3" y1="671.4" x2="1334.3" y2="925.6" stroke="#b98694" stroke-width="1.1" stroke-dasharray="11,11.7"/>
<line x1="1201.5" y1="840.1" x2="1465.5" y2="840.1" stroke="#8c3038" stroke-width="1.6" stroke-dasharray="11,11.7"/>
<polygon points="1324,914 1314,890 1318,884 1327,890 1338,882 1333,900" fill="#2e2e2e"/>
<g fill="#b5b5b5" stroke="#121212" stroke-width="1.15"><circle cx="1308.2" cy="853.4" r="2.75"/><circle cx="1325.0" cy="915.3" r="2.75"/><circle cx="1323.6" cy="905.4" r="2.75"/><circle cx="1334.8" cy="884.9" r="2.75"/><circle cx="1327.4" cy="900.2" r="2.75"/><circle cx="1330.8" cy="849.5" r="2.75"/><circle cx="1320.4" cy="896.8" r="2.75"/><circle cx="1319.4" cy="895.4" r="2.75"/><circle cx="1325.7" cy="901.1" r="2.75"/><circle cx="1319.6" cy="888.5" r="2.75"/><circle cx="1325.1" cy="913.6" r="2.75"/><circle cx="1348.6" cy="849.1" r="2.75"/><circle cx="1337.8" cy="868.6" r="2.75"/><circle cx="1346.7" cy="858.3" r="2.75"/><circle cx="1312.4" cy="850.9" r="2.75"/><circle cx="1339.1" cy="872.5" r="2.75"/><circle cx="1325.4" cy="895.7" r="2.75"/><circle cx="1332.5" cy="892.9" r="2.75"/><circle cx="1325.4" cy="902.7" r="2.75"/><circle cx="1327.8" cy="895.7" r="2.75"/><circle cx="1320.8" cy="893.9" r="2.75"/><circle cx="1325.1" cy="904.4" r="2.75"/><circle cx="1323.8" cy="907.6" r="2.75"/><circle cx="1344.1" cy="853.3" r="2.75"/><circle cx="1330.9" cy="892.7" r="2.75"/><circle cx="1325.8" cy="905.2" r="2.75"/><circle cx="1328.0" cy="892.1" r="2.75"/><circle cx="1325.0" cy="915.6" r="2.75"/><circle cx="1325.1" cy="911.3" r="2.75"/><circle cx="1325.0" cy="916.0" r="2.75"/><circle cx="1312.4" cy="861.3" r="2.75"/><circle cx="1333.5" cy="891.3" r="2.75"/><circle cx="1312.1" cy="860.8" r="2.75"/><circle cx="1315.4" cy="875.7" r="2.75"/><circle cx="1316.4" cy="879.5" r="2.75"/><circle cx="1307.8" cy="853.6" r="2.75"/><circle cx="1326.0" cy="908.2" r="2.75"/><circle cx="1325.1" cy="912.8" r="2.75"/><circle cx="1325.0" cy="916.4" r="2.75"/><circle cx="1325.0" cy="916.5" r="2.75"/><circle cx="1334.8" cy="884.2" r="2.75"/><circle cx="1325.0" cy="916.6" r="2.75"/><circle cx="1338.2" cy="871.4" r="2.75"/><circle cx="1343.0" cy="862.5" r="2.75"/><circle cx="1320.3" cy="894.9" r="2.75"/><circle cx="1325.1" cy="914.8" r="2.75"/><circle cx="1312.8" cy="861.4" r="2.75"/><circle cx="1319.4" cy="891.9" r="2.75"/><circle cx="1309.8" cy="853.1" r="2.75"/><circle cx="1325.0" cy="916.8" r="2.75"/><circle cx="1325.1" cy="913.4" r="2.75"/><circle cx="1325.0" cy="915.0" r="2.75"/><circle cx="1325.6" cy="892.4" r="2.75"/><circle cx="1308.3" cy="849.6" r="2.75"/><circle cx="1335.2" cy="886.1" r="2.75"/><circle cx="1343.2" cy="868.3" r="2.75"/><circle cx="1320.7" cy="891.0" r="2.75"/><circle cx="1325.0" cy="916.5" r="2.75"/><circle cx="1325.2" cy="909.0" r="2.75"/><circle cx="1325.1" cy="911.7" r="2.75"/><circle cx="1322.6" cy="895.5" r="2.75"/><circle cx="1321.7" cy="882.0" r="2.75"/><circle cx="1336.8" cy="874.7" r="2.75"/><circle cx="1330.5" cy="892.1" r="2.75"/><circle cx="1318.7" cy="891.1" r="2.75"/><circle cx="1325.0" cy="915.0" r="2.75"/><circle cx="1345.5" cy="856.9" r="2.75"/><circle cx="1324.2" cy="906.4" r="2.75"/><circle cx="1325.0" cy="916.8" r="2.75"/><circle cx="1343.4" cy="864.6" r="2.75"/><circle cx="1325.0" cy="916.9" r="2.75"/><circle cx="1325.2" cy="910.5" r="2.75"/><circle cx="1325.0" cy="915.6" r="2.75"/><circle cx="1325.0" cy="915.6" r="2.75"/><circle cx="1325.1" cy="911.3" r="2.75"/><circle cx="1315.5" cy="872.5" r="2.75"/><circle cx="1325.1" cy="914.1" r="2.75"/><circle cx="1331.7" cy="882.1" r="2.75"/><circle cx="1325.0" cy="916.7" r="2.75"/><circle cx="1339.8" cy="870.4" r="2.75"/><circle cx="1331.6" cy="896.0" r="2.75"/><circle cx="1325.2" cy="907.5" r="2.75"/><circle cx="1339.7" cy="867.9" r="2.75"/><circle cx="1324.0" cy="906.0" r="2.75"/><circle cx="1322.4" cy="893.8" r="2.75"/><circle cx="1346.0" cy="857.1" r="2.75"/><circle cx="1318.2" cy="866.7" r="2.75"/><circle cx="1325.1" cy="913.2" r="2.75"/><circle cx="1325.0" cy="915.8" r="2.75"/><circle cx="1320.7" cy="881.5" r="2.75"/><circle cx="1325.1" cy="906.0" r="2.75"/><circle cx="1327.4" cy="897.2" r="2.75"/><circle cx="1325.1" cy="914.4" r="2.75"/><circle cx="1325.0" cy="915.0" r="2.75"/><circle cx="1316.7" cy="875.9" r="2.75"/><circle cx="1316.4" cy="876.9" r="2.75"/><circle cx="1349.6" cy="849.5" r="2.75"/><circle cx="1320.5" cy="897.1" r="2.75"/><circle cx="1318.8" cy="885.8" r="2.75"/><circle cx="1329.6" cy="892.2" r="2.75"/><circle cx="1346.1" cy="855.4" r="2.75"/><circle cx="1322.7" cy="894.9" r="2.75"/><circle cx="1340.9" cy="873.2" r="2.75"/><circle cx="1325.2" cy="909.7" r="2.75"/><circle cx="1326.2" cy="899.6" r="2.75"/><circle cx="1325.0" cy="916.9" r="2.75"/><circle cx="1331.7" cy="876.2" r="2.75"/><circle cx="1316.4" cy="866.9" r="2.75"/><circle cx="1335.6" cy="884.9" r="2.75"/><circle cx="1325.1" cy="914.8" r="2.75"/><circle cx="1313.4" cy="871.3" r="2.75"/><circle cx="1325.1" cy="911.3" r="2.75"/><circle cx="1325.1" cy="913.5" r="2.75"/><circle cx="1334.2" cy="888.0" r="2.75"/><circle cx="1325.2" cy="910.7" r="2.75"/><circle cx="1325.0" cy="917.0" r="2.75"/><circle cx="1338.2" cy="872.4" r="2.75"/><circle cx="1315.4" cy="879.3" r="2.75"/><circle cx="1325.0" cy="916.7" r="2.75"/><circle cx="1313.5" cy="872.5" r="2.75"/><circle cx="1325.3" cy="899.5" r="2.75"/><circle cx="1315.4" cy="869.5" r="2.75"/><circle cx="1325.1" cy="912.5" r="2.75"/><circle cx="1325.0" cy="916.9" r="2.75"/><circle cx="1309.9" cy="852.3" r="2.75"/><circle cx="1322.5" cy="897.0" r="2.75"/><circle cx="1337.3" cy="881.4" r="2.75"/><circle cx="1317.1" cy="890.1" r="2.75"/><circle cx="1315.1" cy="866.1" r="2.75"/><circle cx="1319.4" cy="881.1" r="2.75"/><circle cx="1313.4" cy="864.6" r="2.75"/><circle cx="1331.8" cy="890.7" r="2.75"/><circle cx="1342.5" cy="868.5" r="2.75"/><circle cx="1321.3" cy="896.0" r="2.75"/><circle cx="1325.2" cy="907.1" r="2.75"/><circle cx="1313.8" cy="866.6" r="2.75"/><circle cx="1325.0" cy="915.5" r="2.75"/><circle cx="1325.1" cy="912.4" r="2.75"/><circle cx="1342.3" cy="856.8" r="2.75"/><circle cx="1322.2" cy="882.2" r="2.75"/><circle cx="1325.1" cy="914.9" r="2.75"/><circle cx="1325.3" cy="901.5" r="2.75"/><circle cx="1314.1" cy="868.8" r="2.75"/><circle cx="1326.3" cy="899.8" r="2.75"/><circle cx="1325.3" cy="903.4" r="2.75"/><circle cx="1328.6" cy="892.8" r="2.75"/><circle cx="1341.5" cy="872.7" r="2.75"/><circle cx="1320.9" cy="872.5" r="2.75"/><circle cx="1335.5" cy="883.6" r="2.75"/><circle cx="1324.8" cy="901.9" r="2.75"/><circle cx="1322.6" cy="902.7" r="2.75"/><circle cx="1311.2" cy="859.6" r="2.75"/><circle cx="1325.0" cy="916.7" r="2.75"/><circle cx="1325.4" cy="902.4" r="2.75"/><circle cx="1339.9" cy="871.8" r="2.75"/><circle cx="1312.3" cy="865.3" r="2.75"/><circle cx="1325.8" cy="906.7" r="2.75"/><circle cx="1310.6" cy="856.4" r="2.75"/><circle cx="1325.1" cy="913.4" r="2.75"/><circle cx="1326.9" cy="908.5" r="2.75"/><circle cx="1326.0" cy="908.7" r="2.75"/><circle cx="1327.7" cy="901.5" r="2.75"/><circle cx="1325.0" cy="916.0" r="2.75"/><circle cx="1315.4" cy="870.3" r="2.75"/><circle cx="1331.1" cy="891.3" r="2.75"/><circle cx="1320.4" cy="884.6" r="2.75"/><circle cx="1310.0" cy="849.3" r="2.75"/><circle cx="1327.3" cy="904.9" r="2.75"/><circle cx="1328.2" cy="885.6" r="2.75"/><circle cx="1348.8" cy="850.1" r="2.75"/><circle cx="1320.3" cy="896.2" r="2.75"/><circle cx="1325.1" cy="914.6" r="2.75"/><circle cx="1348.5" cy="855.3" r="2.75"/><circle cx="1310.8" cy="857.5" r="2.75"/><circle cx="1325.0" cy="916.9" r="2.75"/><circle cx="1324.4" cy="902.9" r="2.75"/><circle cx="1325.0" cy="915.1" r="2.75"/><circle cx="1325.0" cy="916.2" r="2.75"/><circle cx="1329.0" cy="894.3" r="2.75"/><circle cx="1325.1" cy="913.5" r="2.75"/><circle cx="1347.2" cy="857.1" r="2.75"/><circle cx="1332.5" cy="891.3" r="2.75"/><circle cx="1319.6" cy="893.5" r="2.75"/><circle cx="1325.1" cy="914.3" r="2.75"/><circle cx="1325.5" cy="910.2" r="2.75"/><circle cx="1333.3" cy="883.6" r="2.75"/><circle cx="1319.3" cy="892.4" r="2.75"/><circle cx="1325.1" cy="914.7" r="2.75"/><circle cx="1317.7" cy="883.2" r="2.75"/><circle cx="1321.7" cy="897.8" r="2.75"/><circle cx="1328.6" cy="899.9" r="2.75"/><circle cx="1322.4" cy="894.9" r="2.75"/><circle cx="1318.8" cy="871.5" r="2.75"/><circle cx="1339.5" cy="876.9" r="2.75"/><circle cx="1317.9" cy="889.1" r="2.75"/><circle cx="1325.1" cy="911.2" r="2.75"/><circle cx="1338.1" cy="873.5" r="2.75"/><circle cx="1319.7" cy="894.7" r="2.75"/><circle cx="1339.5" cy="865.1" r="2.75"/><circle cx="1325.0" cy="916.5" r="2.75"/><circle cx="1320.0" cy="889.7" r="2.75"/><circle cx="1346.8" cy="853.5" r="2.75"/><circle cx="1320.6" cy="895.5" r="2.75"/><circle cx="1319.6" cy="877.1" r="2.75"/><circle cx="1344.8" cy="858.7" r="2.75"/><circle cx="1338.9" cy="875.4" r="2.75"/><circle cx="1316.0" cy="880.6" r="2.75"/><circle cx="1311.3" cy="857.9" r="2.75"/><circle cx="1325.7" cy="903.9" r="2.75"/><circle cx="1310.9" cy="856.6" r="2.75"/><circle cx="1341.6" cy="870.9" r="2.75"/><circle cx="1322.5" cy="896.2" r="2.75"/><circle cx="1320.2" cy="894.9" r="2.75"/><circle cx="1325.1" cy="911.3" r="2.75"/><circle cx="1318.8" cy="887.5" r="2.75"/><circle cx="1314.2" cy="862.8" r="2.75"/><circle cx="1333.6" cy="884.1" r="2.75"/><circle cx="1325.6" cy="905.4" r="2.75"/><circle cx="1317.3" cy="864.9" r="2.75"/><circle cx="1325.3" cy="911.0" r="2.75"/><circle cx="1323.0" cy="904.8" r="2.75"/><circle cx="1322.4" cy="897.1" r="2.75"/><circle cx="1313.0" cy="865.3" r="2.75"/><circle cx="1325.1" cy="913.0" r="2.75"/><circle cx="1326.6" cy="901.3" r="2.75"/><circle cx="1334.5" cy="881.8" r="2.75"/><circle cx="1315.8" cy="868.3" r="2.75"/><circle cx="1325.3" cy="905.9" r="2.75"/><circle cx="1325.2" cy="910.8" r="2.75"/><circle cx="1337.2" cy="877.0" r="2.75"/><circle cx="1325.2" cy="909.3" r="2.75"/><circle cx="1325.1" cy="913.5" r="2.75"/><circle cx="1327.1" cy="900.4" r="2.75"/><circle cx="1319.5" cy="894.8" r="2.75"/><circle cx="1325.2" cy="910.2" r="2.75"/><circle cx="1325.0" cy="915.1" r="2.75"/><circle cx="1325.0" cy="916.2" r="2.75"/><circle cx="1327.4" cy="899.7" r="2.75"/><circle cx="1331.5" cy="891.5" r="2.75"/><circle cx="1335.4" cy="886.9" r="2.75"/><circle cx="1325.0" cy="916.7" r="2.75"/><circle cx="1325.1" cy="913.8" r="2.75"/><circle cx="1333.6" cy="884.1" r="2.75"/><circle cx="1309.2" cy="854.8" r="2.75"/><circle cx="1338.3" cy="879.7" r="2.75"/><circle cx="1325.1" cy="913.4" r="2.75"/><circle cx="1310.7" cy="854.6" r="2.75"/><circle cx="1326.4" cy="903.5" r="2.75"/><circle cx="1325.1" cy="914.6" r="2.75"/><circle cx="1332.3" cy="882.5" r="2.75"/><circle cx="1346.3" cy="859.3" r="2.75"/><circle cx="1328.4" cy="903.5" r="2.75"/><circle cx="1325.0" cy="916.9" r="2.75"/><circle cx="1310.8" cy="862.6" r="2.75"/><circle cx="1331.5" cy="890.0" r="2.75"/><circle cx="1313.9" cy="869.2" r="2.75"/><circle cx="1325.0" cy="916.4" r="2.75"/><circle cx="1316.2" cy="879.4" r="2.75"/><circle cx="1309.5" cy="858.5" r="2.75"/><circle cx="1314.7" cy="859.5" r="2.75"/><circle cx="1310.1" cy="858.1" r="2.75"/><circle cx="1324.8" cy="909.3" r="2.75"/><circle cx="1325.0" cy="917.0" r="2.75"/><circle cx="1315.5" cy="881.2" r="2.75"/><circle cx="1328.3" cy="891.7" r="2.75"/><circle cx="1325.1" cy="913.9" r="2.75"/><circle cx="1323.0" cy="895.8" r="2.75"/><circle cx="1332.8" cy="891.8" r="2.75"/><circle cx="1330.0" cy="897.3" r="2.75"/><circle cx="1316.8" cy="881.6" r="2.75"/><circle cx="1322.7" cy="902.9" r="2.75"/><circle cx="1331.3" cy="876.7" r="2.75"/><circle cx="1319.9" cy="887.8" r="2.75"/><circle cx="1321.4" cy="898.3" r="2.75"/><circle cx="1325.2" cy="910.0" r="2.75"/><circle cx="1317.6" cy="883.7" r="2.75"/><circle cx="1324.1" cy="905.7" r="2.75"/><circle cx="1334.5" cy="887.8" r="2.75"/><circle cx="1325.2" cy="908.6" r="2.75"/><circle cx="1327.7" cy="895.7" r="2.75"/><circle cx="1328.0" cy="888.8" r="2.75"/><circle cx="1315.2" cy="872.4" r="2.75"/><circle cx="1330.3" cy="892.6" r="2.75"/><circle cx="1316.6" cy="881.1" r="2.75"/><circle cx="1329.2" cy="885.6" r="2.75"/><circle cx="1309.3" cy="852.3" r="2.75"/><circle cx="1335.9" cy="884.1" r="2.75"/><circle cx="1315.1" cy="868.5" r="2.75"/><circle cx="1325.1" cy="913.2" r="2.75"/><circle cx="1331.3" cy="893.0" r="2.75"/><circle cx="1326.4" cy="899.3" r="2.75"/><circle cx="1327.9" cy="899.5" r="2.75"/><circle cx="1333.6" cy="869.8" r="2.75"/><circle cx="1318.2" cy="879.9" r="2.75"/><circle cx="1325.1" cy="914.4" r="2.75"/><circle cx="1335.6" cy="885.0" r="2.75"/><circle cx="1325.1" cy="911.9" r="2.75"/><circle cx="1317.5" cy="885.4" r="2.75"/><circle cx="1347.4" cy="857.1" r="2.75"/><circle cx="1325.0" cy="916.6" r="2.75"/><circle cx="1273.2" cy="840.2" r="2.75"/><circle cx="1280.3" cy="841.9" r="2.75"/><circle cx="1291.2" cy="841.5" r="2.75"/><circle cx="1299.6" cy="841.0" r="2.75"/><circle cx="1276.4" cy="848.3" r="2.75"/><circle cx="1282.8" cy="848.7" r="2.75"/><circle cx="1279.6" cy="850.3" r="2.75"/><circle cx="1284.1" cy="855.7" r="2.75"/><circle cx="1294.4" cy="845.4" r="2.75"/><circle cx="1292.5" cy="848.3" r="2.75"/><circle cx="1302.2" cy="847.0" r="2.75"/><circle cx="1295.1" cy="852.2" r="2.75"/><circle cx="1299.6" cy="852.8" r="2.75"/><circle cx="1303.5" cy="852.2" r="2.75"/><circle cx="1297.0" cy="859.9" r="2.75"/><circle cx="1291.9" cy="861.2" r="2.75"/><circle cx="1282.8" cy="863.4" r="2.75"/><circle cx="1286.1" cy="867.7" r="2.75"/><circle cx="1290.6" cy="865.1" r="2.75"/><circle cx="1297.0" cy="869.6" r="2.75"/><circle cx="1304.7" cy="858.6" r="2.75"/><circle cx="1306.0" cy="863.1" r="2.75"/><circle cx="1308.0" cy="869.6" r="2.75"/><circle cx="1309.9" cy="874.7" r="2.75"/><circle cx="1306.0" cy="878.6" r="2.75"/><circle cx="1311.8" cy="879.9" r="2.75"/><circle cx="1313.1" cy="884.4" r="2.75"/><circle cx="1315.1" cy="890.2" r="2.75"/><circle cx="1316.3" cy="895.4" r="2.75"/><circle cx="1318.3" cy="900.5" r="2.75"/><circle cx="1320.9" cy="909.5" r="2.75"/><circle cx="1324.7" cy="913.4" r="2.75"/><circle cx="1317.6" cy="859.5" r="2.75"/><circle cx="1322.1" cy="867.7" r="2.75"/><circle cx="1324.7" cy="874.1" r="2.75"/><circle cx="1329.2" cy="882.5" r="2.75"/><circle cx="1320.2" cy="881.2" r="2.75"/><circle cx="1333.8" cy="840.6" r="2.75"/><circle cx="1317.7" cy="859.9" r="2.75"/><circle cx="1334.5" cy="860.6" r="2.75"/><circle cx="1322.2" cy="867.7" r="2.75"/><circle cx="1324.2" cy="873.5" r="2.75"/><circle cx="1337.7" cy="865.7" r="2.75"/><circle cx="1330.0" cy="882.5" r="2.75"/><circle cx="1336.4" cy="876.7" r="2.75"/><circle cx="1344.8" cy="883.8" r="2.75"/><circle cx="1351.9" cy="873.5" r="2.75"/><circle cx="1360.3" cy="872.8" r="2.75"/><circle cx="1358.3" cy="861.2" r="2.75"/><circle cx="1361.5" cy="856.7" r="2.75"/><circle cx="1365.4" cy="850.9" r="2.75"/><circle cx="1376.4" cy="851.5" r="2.75"/><circle cx="1357.7" cy="844.5" r="2.75"/><circle cx="1362.8" cy="843.2" r="2.75"/><circle cx="1382.2" cy="845.7" r="2.75"/><circle cx="1384.1" cy="846.4" r="2.75"/><circle cx="1355.1" cy="851.5" r="2.75"/><circle cx="1352.5" cy="856.7" r="2.75"/><circle cx="1348.7" cy="861.9" r="2.75"/><circle cx="1346.1" cy="867.0" r="2.75"/><circle cx="1343.5" cy="872.2" r="2.75"/><circle cx="1340.9" cy="878.6" r="2.75"/><circle cx="1339.0" cy="885.0" r="2.75"/><circle cx="1337.1" cy="890.2" r="2.75"/><circle cx="1334.5" cy="896.6" r="2.75"/><circle cx="1331.3" cy="903.1" r="2.75"/><circle cx="1328.0" cy="909.5" r="2.75"/><circle cx="1311.3" cy="867.0" r="2.75"/><circle cx="1312.6" cy="877.3" r="2.75"/><circle cx="1315.2" cy="887.6" r="2.75"/><circle cx="1317.7" cy="897.9" r="2.75"/><circle cx="1321.0" cy="908.2" r="2.75"/><circle cx="1317.7" cy="888.9" r="2.75"/><circle cx="1333.6" cy="840.4" r="2.75"/><circle cx="1358.4" cy="843.8" r="2.75"/><circle cx="1362.3" cy="843.3" r="2.75"/><circle cx="1383.2" cy="845.8" r="2.75"/><circle cx="1365.8" cy="850.3" r="2.75"/><circle cx="1376.7" cy="851.3" r="2.75"/><circle cx="1354.4" cy="849.3" r="2.75"/><circle cx="1349.5" cy="854.2" r="2.75"/><circle cx="1359.4" cy="856.2" r="2.75"/><circle cx="1317.8" cy="859.7" r="2.75"/><circle cx="1334.6" cy="860.7" r="2.75"/><circle cx="1322.7" cy="867.6" r="2.75"/><circle cx="1338.6" cy="865.6" r="2.75"/></g>
<g fill="#4a9fd0" stroke="#1d3d55" stroke-width="0.9"><circle cx="1213.5" cy="706.9" r="2.75"/><circle cx="1216.8" cy="717.8" r="2.75"/><circle cx="1217.9" cy="744.8" r="2.75"/><circle cx="1222.8" cy="746.5" r="2.75"/><circle cx="1235.7" cy="758.3" r="2.75"/><circle cx="1239.4" cy="781.2" r="2.75"/><circle cx="1242.5" cy="785.0" r="2.75"/><circle cx="1242.5" cy="791.6" r="2.75"/><circle cx="1254.0" cy="791.6" r="2.75"/><circle cx="1262.7" cy="791.6" r="2.75"/><circle cx="1277.1" cy="794.5" r="2.75"/><circle cx="1257.1" cy="807.1" r="2.75"/><circle cx="1264.1" cy="807.1" r="2.75"/><circle cx="1266.1" cy="810.3" r="2.75"/><circle cx="1260.9" cy="811.6" r="2.75"/><circle cx="1264.1" cy="813.5" r="2.75"/><circle cx="1272.5" cy="805.2" r="2.75"/><circle cx="1277.9" cy="814.8" r="2.75"/><circle cx="1277.9" cy="820.6" r="2.75"/><circle cx="1282.8" cy="821.9" r="2.75"/><circle cx="1268.4" cy="822.9" r="2.75"/><circle cx="1274.5" cy="825.8" r="2.75"/><circle cx="1278.7" cy="825.1" r="2.75"/><circle cx="1267.1" cy="829.0" r="2.75"/><circle cx="1271.0" cy="831.2" r="2.75"/><circle cx="1278.7" cy="831.6" r="2.75"/><circle cx="1284.8" cy="833.5" r="2.75"/><circle cx="1294.4" cy="833.5" r="2.75"/><circle cx="1295.1" cy="836.7" r="2.75"/><circle cx="1298.3" cy="839.3" r="2.75"/><circle cx="1301.9" cy="813.6" r="2.75"/></g>
<g fill="#e08038" stroke="#4a2a10" stroke-width="0.9"><circle cx="1453.5" cy="683.0" r="2.75"/><circle cx="1446.7" cy="691.5" r="2.75"/><circle cx="1390.8" cy="774.5" r="2.75"/><circle cx="1405.6" cy="771.7" r="2.75"/><circle cx="1413.0" cy="770.6" r="2.75"/><circle cx="1404.9" cy="777.2" r="2.75"/><circle cx="1409.4" cy="777.2" r="2.75"/><circle cx="1420.9" cy="776.6" r="2.75"/><circle cx="1397.0" cy="799.7" r="2.75"/><circle cx="1395.0" cy="801.2" r="2.75"/><circle cx="1383.7" cy="808.2" r="2.75"/><circle cx="1379.2" cy="812.1" r="2.75"/><circle cx="1394.1" cy="811.1" r="2.75"/><circle cx="1389.1" cy="813.6" r="2.75"/><circle cx="1392.1" cy="815.6" r="2.75"/><circle cx="1387.6" cy="820.0" r="2.75"/><circle cx="1385.1" cy="821.5" r="2.75"/><circle cx="1393.6" cy="817.6" r="2.75"/><circle cx="1372.3" cy="818.6" r="2.75"/><circle cx="1369.8" cy="820.5" r="2.75"/><circle cx="1366.3" cy="825.0" r="2.75"/><circle cx="1361.9" cy="827.0" r="2.75"/><circle cx="1362.3" cy="831.4" r="2.75"/><circle cx="1369.3" cy="831.9" r="2.75"/><circle cx="1368.3" cy="834.9" r="2.75"/><circle cx="1380.7" cy="831.4" r="2.75"/><circle cx="1391.1" cy="827.5" r="2.75"/><circle cx="1386.1" cy="834.9" r="2.75"/><circle cx="1385.1" cy="838.4" r="2.75"/><circle cx="1377.7" cy="838.9" r="2.75"/><circle cx="1356.9" cy="838.4" r="2.75"/><circle cx="1359.4" cy="839.9" r="2.75"/><circle cx="1388.6" cy="813.5" r="2.75"/><circle cx="1373.1" cy="818.7" r="2.75"/><circle cx="1366.1" cy="825.8" r="2.75"/><circle cx="1361.5" cy="831.6" r="2.75"/></g>
<path d="M1201.5 671.4V925.6H1465.5" fill="none" stroke="#111" stroke-width="1.6"/>
<line x1="1198.0" y1="727.2" x2="1201.5" y2="727.2" stroke="#111" stroke-width="2"/>
<text x="1192.1" y="730.8" font-size="19" text-anchor="end" fill="#000" font-weight="normal" class="t" >3</text>
<line x1="1198.0" y1="793.8" x2="1201.5" y2="793.8" stroke="#111" stroke-width="2"/>
<text x="1192.1" y="797.4" font-size="19" text-anchor="end" fill="#000" font-weight="normal" class="t" >2</text>
<line x1="1198.0" y1="860.3" x2="1201.5" y2="860.3" stroke="#111" stroke-width="2"/>
<text x="1192.1" y="863.9" font-size="19" text-anchor="end" fill="#000" font-weight="normal" class="t" >1</text>
<line x1="1245.6" y1="925.6" x2="1245.6" y2="928.6" stroke="#111" stroke-width="2"/>
<text x="1245.6" y="954.9" font-size="19.3" text-anchor="middle" fill="#000" font-weight="normal" class="t" >−4</text>
<line x1="1321.3" y1="925.6" x2="1321.3" y2="928.6" stroke="#111" stroke-width="2"/>
<text x="1321.3" y="954.9" font-size="19.3" text-anchor="middle" fill="#000" font-weight="normal" class="t" >0</text>
<line x1="1397.1" y1="925.6" x2="1397.1" y2="928.6" stroke="#111" stroke-width="2"/>
<text x="1397.1" y="954.9" font-size="19.3" text-anchor="middle" fill="#000" font-weight="normal" class="t" >4</text>
<text x="1332.4" y="988.1" font-size="21.5" text-anchor="middle" fill="#000" font-weight="normal" class="t" >log2(FC)</text>
<text x="0" y="0" font-size="18.5" text-anchor="middle" fill="#000" class="t" transform="translate(1153.3,780.6) rotate(-90)">-log10(p-value)</text>
<text x="1352.7" y="630.8" font-size="21" text-anchor="middle" fill="#000" font-weight="normal" class="t" >XIST-L2</text>
<text x="1382.3" y="695.7" font-size="19.7" fill="#e4894a">PHIP</text>
<text x="1343.9" y="750.5" font-size="19.7" fill="#e4894a">MAK16</text>
<text x="1328.2" y="799.2" font-size="19.7" fill="#2aa6d8">TAF15</text>
<text x="1400.5" y="799.2" font-size="19.7" fill="#e4894a">RTCB</text>
<text x="1313.6" y="815.6" font-size="19.7" fill="#e4894a">RAD21</text>
<text x="1401" y="819.6" font-size="19.7" fill="#2aa6d8">SNF2L</text>
<text x="1395" y="853.3" font-size="19.7" fill="#e4894a">KIF20A</text>
<line x1="1406" y1="755" x2="1408.4" y2="769.6" stroke="#e4894a" stroke-width="0.9"/>
<line x1="1393.6" y1="798.6" x2="1399.5" y2="797.8" stroke="#e4894a" stroke-width="0.9"/>
<line x1="1704.5" y1="656" x2="1704.5" y2="925.7" stroke="#b98694" stroke-width="1.1" stroke-dasharray="11,11.7"/>
<line x1="1733.9" y1="656" x2="1733.9" y2="925.7" stroke="#8c3038" stroke-width="1.8" stroke-dasharray="11,11.7"/>
<line x1="1586.8" y1="828.3" x2="1861.8" y2="828.3" stroke="#8c3038" stroke-width="1.6" stroke-dasharray="11,11.7"/>
<polygon points="1713,913 1705,902 1712,896 1722,889 1726,890 1719,905" fill="#2e2e2e"/>
<g fill="#b5b5b5" stroke="#121212" stroke-width="1.15"><circle cx="1714.2" cy="904.9" r="2.75"/><circle cx="1672.1" cy="874.6" r="2.75"/><circle cx="1713.0" cy="916.7" r="2.75"/><circle cx="1738.7" cy="839.4" r="2.75"/><circle cx="1733.3" cy="855.2" r="2.75"/><circle cx="1728.0" cy="873.8" r="2.75"/><circle cx="1725.9" cy="883.4" r="2.75"/><circle cx="1731.1" cy="862.6" r="2.75"/><circle cx="1706.3" cy="900.6" r="2.75"/><circle cx="1728.9" cy="866.2" r="2.75"/><circle cx="1727.4" cy="866.6" r="2.75"/><circle cx="1720.7" cy="889.8" r="2.75"/><circle cx="1657.7" cy="851.1" r="2.75"/><circle cx="1737.9" cy="842.5" r="2.75"/><circle cx="1672.1" cy="874.5" r="2.75"/><circle cx="1719.9" cy="897.0" r="2.75"/><circle cx="1725.7" cy="878.2" r="2.75"/><circle cx="1710.2" cy="853.2" r="2.75"/><circle cx="1712.4" cy="909.6" r="2.75"/><circle cx="1735.7" cy="842.6" r="2.75"/><circle cx="1714.1" cy="906.7" r="2.75"/><circle cx="1676.6" cy="879.1" r="2.75"/><circle cx="1652.2" cy="840.0" r="2.75"/><circle cx="1731.7" cy="858.6" r="2.75"/><circle cx="1730.5" cy="861.6" r="2.75"/><circle cx="1712.9" cy="915.6" r="2.75"/><circle cx="1718.3" cy="898.5" r="2.75"/><circle cx="1737.8" cy="841.0" r="2.75"/><circle cx="1712.8" cy="914.2" r="2.75"/><circle cx="1712.9" cy="916.1" r="2.75"/><circle cx="1712.4" cy="910.0" r="2.75"/><circle cx="1662.1" cy="852.1" r="2.75"/><circle cx="1719.6" cy="895.0" r="2.75"/><circle cx="1723.7" cy="883.7" r="2.75"/><circle cx="1727.0" cy="875.1" r="2.75"/><circle cx="1725.4" cy="884.7" r="2.75"/><circle cx="1711.8" cy="900.6" r="2.75"/><circle cx="1675.2" cy="881.3" r="2.75"/><circle cx="1719.0" cy="892.1" r="2.75"/><circle cx="1669.8" cy="874.0" r="2.75"/><circle cx="1727.9" cy="874.5" r="2.75"/><circle cx="1728.7" cy="867.3" r="2.75"/><circle cx="1713.0" cy="916.4" r="2.75"/><circle cx="1711.3" cy="904.1" r="2.75"/><circle cx="1726.8" cy="877.5" r="2.75"/><circle cx="1719.1" cy="895.6" r="2.75"/><circle cx="1718.3" cy="900.7" r="2.75"/><circle cx="1727.1" cy="879.5" r="2.75"/><circle cx="1704.4" cy="900.0" r="2.75"/><circle cx="1713.3" cy="908.2" r="2.75"/><circle cx="1667.1" cy="868.1" r="2.75"/><circle cx="1732.1" cy="855.4" r="2.75"/><circle cx="1659.6" cy="853.3" r="2.75"/><circle cx="1733.0" cy="850.5" r="2.75"/><circle cx="1709.5" cy="905.8" r="2.75"/><circle cx="1732.7" cy="858.0" r="2.75"/><circle cx="1710.8" cy="908.4" r="2.75"/><circle cx="1729.8" cy="858.0" r="2.75"/><circle cx="1712.1" cy="911.5" r="2.75"/><circle cx="1718.0" cy="897.3" r="2.75"/><circle cx="1721.2" cy="891.8" r="2.75"/><circle cx="1713.0" cy="916.9" r="2.75"/><circle cx="1690.7" cy="850.9" r="2.75"/><circle cx="1737.9" cy="844.0" r="2.75"/><circle cx="1730.2" cy="855.1" r="2.75"/><circle cx="1675.8" cy="883.7" r="2.75"/><circle cx="1712.8" cy="914.6" r="2.75"/><circle cx="1712.9" cy="901.6" r="2.75"/><circle cx="1728.9" cy="868.5" r="2.75"/><circle cx="1736.1" cy="849.3" r="2.75"/><circle cx="1663.9" cy="863.8" r="2.75"/><circle cx="1715.9" cy="900.7" r="2.75"/><circle cx="1737.8" cy="845.1" r="2.75"/><circle cx="1702.9" cy="897.7" r="2.75"/><circle cx="1730.3" cy="860.3" r="2.75"/><circle cx="1714.7" cy="907.5" r="2.75"/><circle cx="1731.3" cy="859.4" r="2.75"/><circle cx="1729.6" cy="858.1" r="2.75"/><circle cx="1657.6" cy="852.6" r="2.75"/><circle cx="1708.5" cy="902.7" r="2.75"/><circle cx="1724.0" cy="887.5" r="2.75"/><circle cx="1713.0" cy="917.0" r="2.75"/><circle cx="1712.8" cy="914.6" r="2.75"/><circle cx="1712.7" cy="913.8" r="2.75"/><circle cx="1705.4" cy="899.6" r="2.75"/><circle cx="1725.2" cy="878.0" r="2.75"/><circle cx="1712.9" cy="907.9" r="2.75"/><circle cx="1728.7" cy="866.5" r="2.75"/><circle cx="1712.7" cy="914.1" r="2.75"/><circle cx="1730.1" cy="860.3" r="2.75"/><circle cx="1730.8" cy="858.5" r="2.75"/><circle cx="1724.3" cy="885.6" r="2.75"/><circle cx="1720.7" cy="891.7" r="2.75"/><circle cx="1726.4" cy="882.3" r="2.75"/><circle cx="1712.8" cy="914.5" r="2.75"/><circle cx="1735.8" cy="845.4" r="2.75"/><circle cx="1736.3" cy="849.2" r="2.75"/><circle cx="1712.6" cy="911.9" r="2.75"/><circle cx="1728.7" cy="871.3" r="2.75"/><circle cx="1727.9" cy="864.8" r="2.75"/><circle cx="1712.6" cy="912.9" r="2.75"/><circle cx="1662.2" cy="861.1" r="2.75"/><circle cx="1712.7" cy="913.5" r="2.75"/><circle cx="1712.9" cy="916.4" r="2.75"/><circle cx="1712.6" cy="912.0" r="2.75"/><circle cx="1734.6" cy="843.8" r="2.75"/><circle cx="1661.2" cy="858.8" r="2.75"/><circle cx="1668.1" cy="866.6" r="2.75"/><circle cx="1729.7" cy="863.4" r="2.75"/><circle cx="1726.7" cy="880.0" r="2.75"/><circle cx="1707.3" cy="904.7" r="2.75"/><circle cx="1728.4" cy="863.0" r="2.75"/><circle cx="1719.1" cy="895.8" r="2.75"/><circle cx="1712.7" cy="913.9" r="2.75"/><circle cx="1739.5" cy="841.7" r="2.75"/><circle cx="1728.9" cy="868.8" r="2.75"/><circle cx="1726.5" cy="870.3" r="2.75"/><circle cx="1655.9" cy="849.2" r="2.75"/><circle cx="1712.7" cy="913.3" r="2.75"/><circle cx="1721.9" cy="889.9" r="2.75"/><circle cx="1710.5" cy="908.2" r="2.75"/><circle cx="1706.4" cy="899.6" r="2.75"/><circle cx="1729.2" cy="868.7" r="2.75"/><circle cx="1718.6" cy="892.3" r="2.75"/><circle cx="1671.8" cy="878.2" r="2.75"/><circle cx="1724.2" cy="887.0" r="2.75"/><circle cx="1712.8" cy="909.1" r="2.75"/><circle cx="1712.3" cy="910.7" r="2.75"/><circle cx="1724.5" cy="876.9" r="2.75"/><circle cx="1731.5" cy="855.3" r="2.75"/><circle cx="1730.0" cy="866.0" r="2.75"/><circle cx="1719.1" cy="893.3" r="2.75"/><circle cx="1708.5" cy="905.5" r="2.75"/><circle cx="1726.4" cy="866.3" r="2.75"/><circle cx="1708.5" cy="904.7" r="2.75"/><circle cx="1707.9" cy="903.6" r="2.75"/><circle cx="1660.0" cy="849.0" r="2.75"/><circle cx="1660.7" cy="852.4" r="2.75"/><circle cx="1712.7" cy="913.8" r="2.75"/><circle cx="1660.9" cy="855.4" r="2.75"/><circle cx="1669.7" cy="870.2" r="2.75"/><circle cx="1717.8" cy="898.2" r="2.75"/><circle cx="1727.8" cy="878.1" r="2.75"/><circle cx="1720.0" cy="894.0" r="2.75"/><circle cx="1669.1" cy="871.1" r="2.75"/><circle cx="1731.4" cy="850.2" r="2.75"/><circle cx="1717.5" cy="895.3" r="2.75"/><circle cx="1664.6" cy="862.7" r="2.75"/><circle cx="1663.6" cy="858.1" r="2.75"/><circle cx="1710.0" cy="862.9" r="2.75"/><circle cx="1676.3" cy="882.3" r="2.75"/><circle cx="1730.8" cy="866.3" r="2.75"/><circle cx="1674.7" cy="879.7" r="2.75"/><circle cx="1712.1" cy="908.7" r="2.75"/><circle cx="1669.5" cy="872.0" r="2.75"/><circle cx="1718.8" cy="898.4" r="2.75"/><circle cx="1726.6" cy="877.1" r="2.75"/><circle cx="1705.7" cy="899.8" r="2.75"/><circle cx="1712.8" cy="914.6" r="2.75"/><circle cx="1728.4" cy="864.3" r="2.75"/><circle cx="1716.8" cy="903.1" r="2.75"/><circle cx="1678.2" cy="884.9" r="2.75"/><circle cx="1730.9" cy="861.6" r="2.75"/><circle cx="1724.9" cy="881.9" r="2.75"/><circle cx="1718.6" cy="896.9" r="2.75"/><circle cx="1712.7" cy="913.1" r="2.75"/><circle cx="1731.7" cy="860.6" r="2.75"/><circle cx="1720.9" cy="892.0" r="2.75"/><circle cx="1732.2" cy="857.1" r="2.75"/><circle cx="1696.8" cy="893.4" r="2.75"/><circle cx="1726.0" cy="883.0" r="2.75"/><circle cx="1663.5" cy="860.4" r="2.75"/><circle cx="1730.7" cy="858.3" r="2.75"/><circle cx="1726.5" cy="880.9" r="2.75"/><circle cx="1711.1" cy="873.9" r="2.75"/><circle cx="1715.1" cy="900.7" r="2.75"/><circle cx="1665.0" cy="865.5" r="2.75"/><circle cx="1729.2" cy="861.4" r="2.75"/><circle cx="1688.0" cy="888.5" r="2.75"/><circle cx="1677.8" cy="882.9" r="2.75"/><circle cx="1723.3" cy="889.8" r="2.75"/><circle cx="1736.1" cy="843.1" r="2.75"/><circle cx="1673.1" cy="874.8" r="2.75"/><circle cx="1702.1" cy="896.3" r="2.75"/><circle cx="1736.4" cy="846.0" r="2.75"/><circle cx="1732.3" cy="851.9" r="2.75"/><circle cx="1724.8" cy="876.8" r="2.75"/><circle cx="1728.5" cy="866.5" r="2.75"/><circle cx="1734.2" cy="845.8" r="2.75"/><circle cx="1721.9" cy="890.4" r="2.75"/><circle cx="1712.9" cy="915.7" r="2.75"/><circle cx="1712.7" cy="907.4" r="2.75"/><circle cx="1726.8" cy="882.2" r="2.75"/><circle cx="1672.5" cy="872.5" r="2.75"/><circle cx="1696.7" cy="893.2" r="2.75"/><circle cx="1735.0" cy="849.0" r="2.75"/><circle cx="1724.9" cy="882.9" r="2.75"/><circle cx="1709.1" cy="905.9" r="2.75"/><circle cx="1712.5" cy="910.7" r="2.75"/><circle cx="1710.3" cy="907.7" r="2.75"/><circle cx="1712.3" cy="909.3" r="2.75"/><circle cx="1713.1" cy="912.6" r="2.75"/><circle cx="1713.0" cy="916.4" r="2.75"/><circle cx="1719.7" cy="892.7" r="2.75"/><circle cx="1697.0" cy="893.6" r="2.75"/><circle cx="1654.0" cy="842.5" r="2.75"/><circle cx="1712.8" cy="909.5" r="2.75"/><circle cx="1704.3" cy="897.3" r="2.75"/><circle cx="1716.3" cy="902.4" r="2.75"/><circle cx="1723.6" cy="888.1" r="2.75"/><circle cx="1715.5" cy="903.1" r="2.75"/><circle cx="1725.9" cy="874.3" r="2.75"/><circle cx="1737.3" cy="842.1" r="2.75"/><circle cx="1713.0" cy="916.9" r="2.75"/><circle cx="1712.9" cy="915.9" r="2.75"/><circle cx="1727.5" cy="872.1" r="2.75"/><circle cx="1718.4" cy="887.2" r="2.75"/><circle cx="1735.3" cy="847.3" r="2.75"/><circle cx="1728.0" cy="876.2" r="2.75"/><circle cx="1712.7" cy="913.7" r="2.75"/><circle cx="1720.4" cy="894.1" r="2.75"/><circle cx="1728.3" cy="869.8" r="2.75"/><circle cx="1727.8" cy="864.8" r="2.75"/><circle cx="1725.7" cy="880.9" r="2.75"/><circle cx="1714.3" cy="905.5" r="2.75"/><circle cx="1685.1" cy="886.9" r="2.75"/><circle cx="1725.1" cy="876.4" r="2.75"/><circle cx="1719.1" cy="894.3" r="2.75"/><circle cx="1712.9" cy="916.4" r="2.75"/><circle cx="1730.4" cy="862.5" r="2.75"/><circle cx="1733.4" cy="854.5" r="2.75"/><circle cx="1730.9" cy="851.1" r="2.75"/><circle cx="1729.7" cy="864.9" r="2.75"/><circle cx="1703.4" cy="895.6" r="2.75"/><circle cx="1712.6" cy="912.8" r="2.75"/><circle cx="1713.3" cy="912.6" r="2.75"/><circle cx="1712.9" cy="915.5" r="2.75"/><circle cx="1727.5" cy="872.9" r="2.75"/><circle cx="1651.8" cy="842.3" r="2.75"/><circle cx="1726.8" cy="880.1" r="2.75"/><circle cx="1729.4" cy="859.7" r="2.75"/><circle cx="1713.4" cy="908.1" r="2.75"/><circle cx="1712.6" cy="912.4" r="2.75"/><circle cx="1652.5" cy="842.4" r="2.75"/><circle cx="1687.4" cy="888.2" r="2.75"/><circle cx="1731.3" cy="855.8" r="2.75"/><circle cx="1732.3" cy="851.8" r="2.75"/><circle cx="1724.9" cy="876.6" r="2.75"/><circle cx="1725.2" cy="877.3" r="2.75"/><circle cx="1711.7" cy="907.0" r="2.75"/><circle cx="1712.8" cy="914.2" r="2.75"/><circle cx="1686.0" cy="886.6" r="2.75"/><circle cx="1721.3" cy="891.5" r="2.75"/><circle cx="1675.4" cy="876.3" r="2.75"/><circle cx="1713.1" cy="898.2" r="2.75"/><circle cx="1712.7" cy="913.9" r="2.75"/><circle cx="1726.3" cy="865.5" r="2.75"/><circle cx="1737.4" cy="840.4" r="2.75"/><circle cx="1721.2" cy="891.8" r="2.75"/><circle cx="1732.6" cy="848.7" r="2.75"/><circle cx="1721.5" cy="892.8" r="2.75"/><circle cx="1717.7" cy="901.3" r="2.75"/><circle cx="1709.9" cy="908.3" r="2.75"/><circle cx="1724.2" cy="883.7" r="2.75"/><circle cx="1712.9" cy="915.8" r="2.75"/><circle cx="1717.3" cy="897.5" r="2.75"/><circle cx="1665.2" cy="863.6" r="2.75"/><circle cx="1696.1" cy="892.4" r="2.75"/><circle cx="1712.0" cy="910.2" r="2.75"/><circle cx="1733.5" cy="841.1" r="2.75"/><circle cx="1699.4" cy="895.4" r="2.75"/><circle cx="1724.0" cy="883.2" r="2.75"/><circle cx="1719.7" cy="896.4" r="2.75"/><circle cx="1733.5" cy="850.3" r="2.75"/><circle cx="1705.0" cy="900.9" r="2.75"/><circle cx="1713.2" cy="911.4" r="2.75"/><circle cx="1675.6" cy="882.3" r="2.75"/><circle cx="1731.6" cy="861.5" r="2.75"/><circle cx="1739.1" cy="841.1" r="2.75"/><circle cx="1709.6" cy="908.3" r="2.75"/><circle cx="1720.0" cy="890.8" r="2.75"/><circle cx="1712.7" cy="913.4" r="2.75"/><circle cx="1715.1" cy="904.3" r="2.75"/><circle cx="1712.9" cy="915.7" r="2.75"/><circle cx="1725.2" cy="874.4" r="2.75"/><circle cx="1709.3" cy="904.3" r="2.75"/><circle cx="1727.3" cy="862.6" r="2.75"/><circle cx="1673.6" cy="881.0" r="2.75"/><circle cx="1713.4" cy="909.3" r="2.75"/><circle cx="1732.8" cy="848.4" r="2.75"/><circle cx="1728.5" cy="871.1" r="2.75"/><circle cx="1719.2" cy="892.2" r="2.75"/><circle cx="1713.1" cy="909.2" r="2.75"/><circle cx="1720.3" cy="881.4" r="2.75"/><circle cx="1719.2" cy="896.9" r="2.75"/><circle cx="1654.6" cy="843.1" r="2.75"/><circle cx="1714.8" cy="899.6" r="2.75"/><circle cx="1731.3" cy="856.0" r="2.75"/><circle cx="1673.1" cy="875.8" r="2.75"/><circle cx="1683.0" cy="886.3" r="2.75"/><circle cx="1645.1" cy="833.3" r="2.75"/><circle cx="1648.0" cy="835.0" r="2.75"/><circle cx="1652.2" cy="836.6" r="2.75"/><circle cx="1658.5" cy="835.0" r="2.75"/><circle cx="1649.2" cy="842.8" r="2.75"/><circle cx="1652.8" cy="845.1" r="2.75"/><circle cx="1656.4" cy="844.0" r="2.75"/><circle cx="1671.2" cy="844.6" r="2.75"/><circle cx="1665.9" cy="847.5" r="2.75"/><circle cx="1659.3" cy="849.9" r="2.75"/><circle cx="1653.4" cy="854.7" r="2.75"/><circle cx="1671.8" cy="852.9" r="2.75"/><circle cx="1667.1" cy="854.7" r="2.75"/><circle cx="1659.9" cy="857.6" r="2.75"/><circle cx="1665.3" cy="860.0" r="2.75"/><circle cx="1672.4" cy="858.8" r="2.75"/><circle cx="1677.8" cy="858.2" r="2.75"/><circle cx="1657.5" cy="860.0" r="2.75"/><circle cx="1659.3" cy="866.0" r="2.75"/><circle cx="1664.1" cy="866.0" r="2.75"/><circle cx="1673.0" cy="868.3" r="2.75"/><circle cx="1681.3" cy="864.8" r="2.75"/><circle cx="1687.3" cy="862.4" r="2.75"/><circle cx="1690.3" cy="867.7" r="2.75"/><circle cx="1693.8" cy="858.8" r="2.75"/><circle cx="1695.0" cy="845.7" r="2.75"/><circle cx="1699.8" cy="837.8" r="2.75"/><circle cx="1703.3" cy="866.0" r="2.75"/><circle cx="1645.0" cy="834.0" r="2.75"/><circle cx="1647.9" cy="835.5" r="2.75"/><circle cx="1652.4" cy="836.4" r="2.75"/><circle cx="1658.3" cy="835.0" r="2.75"/><circle cx="1649.9" cy="842.9" r="2.75"/><circle cx="1652.9" cy="844.9" r="2.75"/><circle cx="1656.4" cy="844.9" r="2.75"/><circle cx="1659.3" cy="849.8" r="2.75"/><circle cx="1665.3" cy="845.9" r="2.75"/><circle cx="1666.3" cy="848.8" r="2.75"/><circle cx="1671.2" cy="844.4" r="2.75"/><circle cx="1653.4" cy="853.8" r="2.75"/><circle cx="1657.8" cy="855.8" r="2.75"/><circle cx="1660.3" cy="857.8" r="2.75"/><circle cx="1664.8" cy="859.7" r="2.75"/><circle cx="1664.3" cy="854.3" r="2.75"/><circle cx="1668.7" cy="855.8" r="2.75"/><circle cx="1671.7" cy="852.8" r="2.75"/><circle cx="1672.7" cy="858.7" r="2.75"/><circle cx="1677.7" cy="858.7" r="2.75"/><circle cx="1659.8" cy="866.7" r="2.75"/><circle cx="1663.3" cy="869.1" r="2.75"/><circle cx="1663.8" cy="874.6" r="2.75"/><circle cx="1670.7" cy="875.1" r="2.75"/><circle cx="1674.7" cy="869.6" r="2.75"/><circle cx="1672.7" cy="879.6" r="2.75"/><circle cx="1672.7" cy="885.5" r="2.75"/><circle cx="1679.1" cy="882.5" r="2.75"/><circle cx="1681.1" cy="864.7" r="2.75"/><circle cx="1684.1" cy="868.7" r="2.75"/><circle cx="1687.1" cy="862.7" r="2.75"/><circle cx="1689.6" cy="867.7" r="2.75"/><circle cx="1684.1" cy="875.6" r="2.75"/><circle cx="1685.6" cy="880.0" r="2.75"/><circle cx="1685.1" cy="884.0" r="2.75"/><circle cx="1692.0" cy="874.1" r="2.75"/><circle cx="1694.5" cy="878.6" r="2.75"/><circle cx="1699.0" cy="875.6" r="2.75"/><circle cx="1697.5" cy="885.5" r="2.75"/><circle cx="1693.5" cy="889.5" r="2.75"/><circle cx="1701.0" cy="892.0" r="2.75"/><circle cx="1690.5" cy="892.4" r="2.75"/><circle cx="1695.0" cy="856.8" r="2.75"/><circle cx="1695.0" cy="845.9" r="2.75"/><circle cx="1700.0" cy="837.9" r="2.75"/><circle cx="1704.4" cy="866.7" r="2.75"/><circle cx="1709.4" cy="860.7" r="2.75"/><circle cx="1717.3" cy="856.3" r="2.75"/><circle cx="1716.3" cy="866.7" r="2.75"/><circle cx="1708.4" cy="887.5" r="2.75"/><circle cx="1714.3" cy="888.0" r="2.75"/><circle cx="1715.8" cy="877.1" r="2.75"/><circle cx="1719.3" cy="872.6" r="2.75"/><circle cx="1725.2" cy="866.7" r="2.75"/><circle cx="1729.2" cy="863.7" r="2.75"/><circle cx="1736.6" cy="868.7" r="2.75"/><circle cx="1742.6" cy="856.8" r="2.75"/><circle cx="1743.1" cy="845.9" r="2.75"/><circle cx="1744.6" cy="839.4" r="2.75"/><circle cx="1739.1" cy="839.9" r="2.75"/><circle cx="1751.5" cy="846.4" r="2.75"/><circle cx="1752.5" cy="833.0" r="2.75"/><circle cx="1756.0" cy="841.4" r="2.75"/><circle cx="1758.9" cy="841.9" r="2.75"/><circle cx="1749.6" cy="827.0" r="2.75"/><circle cx="1752.0" cy="832.9" r="2.75"/><circle cx="1778.3" cy="834.9" r="2.75"/><circle cx="1770.9" cy="840.4" r="2.75"/><circle cx="1759.0" cy="841.9" r="2.75"/><circle cx="1755.5" cy="841.4" r="2.75"/><circle cx="1751.0" cy="846.3" r="2.75"/><circle cx="1744.6" cy="839.4" r="2.75"/><circle cx="1740.6" cy="840.4" r="2.75"/><circle cx="1742.6" cy="846.3" r="2.75"/><circle cx="1701.0" cy="837.9" r="2.75"/><circle cx="1717.3" cy="856.2" r="2.75"/><circle cx="1709.4" cy="860.7" r="2.75"/><circle cx="1704.5" cy="866.1" r="2.75"/><circle cx="1715.9" cy="866.6" r="2.75"/><circle cx="1742.6" cy="857.2" r="2.75"/><circle cx="1725.8" cy="863.2" r="2.75"/><circle cx="1732.7" cy="857.2" r="2.75"/><circle cx="1737.7" cy="852.3" r="2.75"/></g>
<g fill="#4a9fd0" stroke="#1d3d55" stroke-width="0.9"><circle cx="1599.3" cy="779.1" r="2.75"/><circle cx="1602.8" cy="780.0" r="2.75"/><circle cx="1605.0" cy="786.6" r="2.75"/><circle cx="1605.8" cy="791.9" r="2.75"/><circle cx="1602.8" cy="792.8" r="2.75"/><circle cx="1616.5" cy="772.8" r="2.75"/><circle cx="1624.8" cy="767.6" r="2.75"/><circle cx="1626.6" cy="772.4" r="2.75"/><circle cx="1616.2" cy="782.7" r="2.75"/><circle cx="1621.3" cy="784.7" r="2.75"/><circle cx="1631.1" cy="781.2" r="2.75"/><circle cx="1618.1" cy="796.0" r="2.75"/><circle cx="1626.9" cy="792.8" r="2.75"/><circle cx="1632.6" cy="790.4" r="2.75"/><circle cx="1634.0" cy="794.0" r="2.75"/><circle cx="1635.5" cy="797.0" r="2.75"/><circle cx="1630.8" cy="801.7" r="2.75"/><circle cx="1635.0" cy="807.1" r="2.75"/><circle cx="1640.1" cy="805.7" r="2.75"/><circle cx="1636.7" cy="812.8" r="2.75"/><circle cx="1639.5" cy="816.0" r="2.75"/><circle cx="1624.2" cy="814.8" r="2.75"/><circle cx="1632.0" cy="825.9" r="2.75"/><circle cx="1641.5" cy="824.0" r="2.75"/><circle cx="1646.3" cy="825.5" r="2.75"/></g>
<g fill="#e08038" stroke="#4a2a10" stroke-width="0.9"><circle cx="1849.0" cy="668.4" r="2.75"/><circle cx="1814.0" cy="715.2" r="2.75"/><circle cx="1833.3" cy="713.7" r="2.75"/><circle cx="1789.1" cy="743.4" r="2.75"/><circle cx="1800.3" cy="741.2" r="2.75"/><circle cx="1807.7" cy="742.0" r="2.75"/><circle cx="1814.8" cy="739.0" r="2.75"/><circle cx="1809.2" cy="749.4" r="2.75"/><circle cx="1807.7" cy="756.1" r="2.75"/><circle cx="1809.9" cy="756.8" r="2.75"/><circle cx="1799.5" cy="757.6" r="2.75"/><circle cx="1794.0" cy="760.5" r="2.75"/><circle cx="1795.1" cy="766.2" r="2.75"/><circle cx="1794.3" cy="774.7" r="2.75"/><circle cx="1800.0" cy="777.6" r="2.75"/><circle cx="1795.8" cy="783.6" r="2.75"/><circle cx="1789.1" cy="788.8" r="2.75"/><circle cx="1781.2" cy="796.2" r="2.75"/><circle cx="1785.4" cy="801.4" r="2.75"/><circle cx="1789.1" cy="803.7" r="2.75"/><circle cx="1793.7" cy="774.5" r="2.75"/><circle cx="1799.6" cy="777.9" r="2.75"/><circle cx="1795.1" cy="783.9" r="2.75"/><circle cx="1788.7" cy="788.8" r="2.75"/><circle cx="1785.2" cy="801.7" r="2.75"/><circle cx="1789.2" cy="803.7" r="2.75"/><circle cx="1786.7" cy="807.2" r="2.75"/><circle cx="1781.3" cy="809.6" r="2.75"/><circle cx="1767.9" cy="810.1" r="2.75"/><circle cx="1763.4" cy="811.1" r="2.75"/><circle cx="1761.4" cy="809.1" r="2.75"/><circle cx="1757.5" cy="812.6" r="2.75"/><circle cx="1758.5" cy="816.1" r="2.75"/><circle cx="1754.5" cy="817.6" r="2.75"/><circle cx="1781.3" cy="819.6" r="2.75"/><circle cx="1780.8" cy="822.5" r="2.75"/><circle cx="1775.3" cy="823.5" r="2.75"/><circle cx="1733.7" cy="826.5" r="2.75"/></g>
<path d="M1586.8 656V925.7H1861.8" fill="none" stroke="#111" stroke-width="1.6"/>
<line x1="1583.3" y1="696" x2="1586.8" y2="696" stroke="#111" stroke-width="2"/>
<text x="1574.2" y="699.4" font-size="19" text-anchor="end" fill="#000" font-weight="normal" class="t" >3</text>
<line x1="1583.3" y1="773.8" x2="1586.8" y2="773.8" stroke="#111" stroke-width="2"/>
<text x="1574.2" y="777.6" font-size="19" text-anchor="end" fill="#000" font-weight="normal" class="t" >2</text>
<line x1="1583.3" y1="851.7" x2="1586.8" y2="851.7" stroke="#111" stroke-width="2"/>
<text x="1574.2" y="855.5" font-size="19" text-anchor="end" fill="#000" font-weight="normal" class="t" >1</text>
<line x1="1593" y1="925.7" x2="1593" y2="928.7" stroke="#111" stroke-width="2"/>
<text x="1593.0" y="953.5" font-size="19.3" text-anchor="middle" fill="#000" font-weight="normal" class="t" >−6</text>
<line x1="1655.9" y1="925.7" x2="1655.9" y2="928.7" stroke="#111" stroke-width="2"/>
<text x="1655.9" y="953.5" font-size="19.3" text-anchor="middle" fill="#000" font-weight="normal" class="t" >−3</text>
<line x1="1719.1" y1="925.7" x2="1719.1" y2="928.7" stroke="#111" stroke-width="2"/>
<text x="1719.1" y="953.5" font-size="19.3" text-anchor="middle" fill="#000" font-weight="normal" class="t" >0</text>
<line x1="1782.2" y1="925.7" x2="1782.2" y2="928.7" stroke="#111" stroke-width="2"/>
<text x="1782.2" y="953.5" font-size="19.3" text-anchor="middle" fill="#000" font-weight="normal" class="t" >3</text>
<line x1="1845.1" y1="925.7" x2="1845.1" y2="928.7" stroke="#111" stroke-width="2"/>
<text x="1845.1" y="953.5" font-size="19.3" text-anchor="middle" fill="#000" font-weight="normal" class="t" >6</text>
<text x="1735.3" y="988.2" font-size="21.5" text-anchor="middle" fill="#000" font-weight="normal" class="t" >log2(FC)</text>
<text x="0" y="0" font-size="18.5" text-anchor="middle" fill="#000" class="t" transform="translate(1544.5,764.9) rotate(-90)">-log10(p-value)</text>
<text x="1751.7" y="630.8" font-size="21" text-anchor="middle" fill="#000" font-weight="normal" class="t" >XIST-L3</text>
<text x="1746" y="713.7" font-size="19.3" fill="#e4894a">BRG1</text>
<text x="1740" y="745" font-size="19.3" fill="#e4894a">PHIP</text>
<text x="1828.5" y="746" font-size="19.3" fill="#e4894a">ATRX</text>
<text x="1824" y="765.7" font-size="19.3" fill="#e4894a">SMC1A</text>
<text x="1722.2" y="779.9" font-size="19.3" fill="#2aa6d8">SNF2L</text>
<text x="1801" y="784.9" font-size="19.3" fill="#e4894a">MAK16</text>
<text x="1715.9" y="800.7" font-size="19.3" fill="#2aa6d8">TAF15</text>
<text x="1795.1" y="806.2" font-size="19.3" fill="#e4894a">KIF20A</text>
<text x="1789.2" y="827.5" font-size="19.3" fill="#e4894a">RTCB</text>
<line x1="1810.7" y1="750.9" x2="1827" y2="742" stroke="#e4894a" stroke-width="0.9"/>
<rect x="1938" y="853.7" width="134" height="102.3" fill="#fff" stroke="#6e6e6e" stroke-width="3"/>
<circle cx="1956.7" cy="880.6" r="5.4" fill="#45a6e0" stroke="#1d4f70" stroke-width="1.3"/>
<circle cx="1956.7" cy="909" r="5.4" fill="#ee8236" stroke="#6a3510" stroke-width="1.3"/>
<circle cx="1956.7" cy="939.5" r="5.4" fill="#a9a9a9" stroke="#3a3a3a" stroke-width="1.3"/>
<text x="1971.6" y="881.9" font-size="20.8" text-anchor="start" fill="#000" font-weight="normal" class="t" >Depleted</text>
<text x="1971.6" y="912.8" font-size="20.8" text-anchor="start" fill="#000" font-weight="normal" class="t" >Enriched</text>
<text x="1971.6" y="943.8" font-size="20.8" text-anchor="start" fill="#000" font-weight="normal" class="t" >N.S.</text>
</svg></body></html>
